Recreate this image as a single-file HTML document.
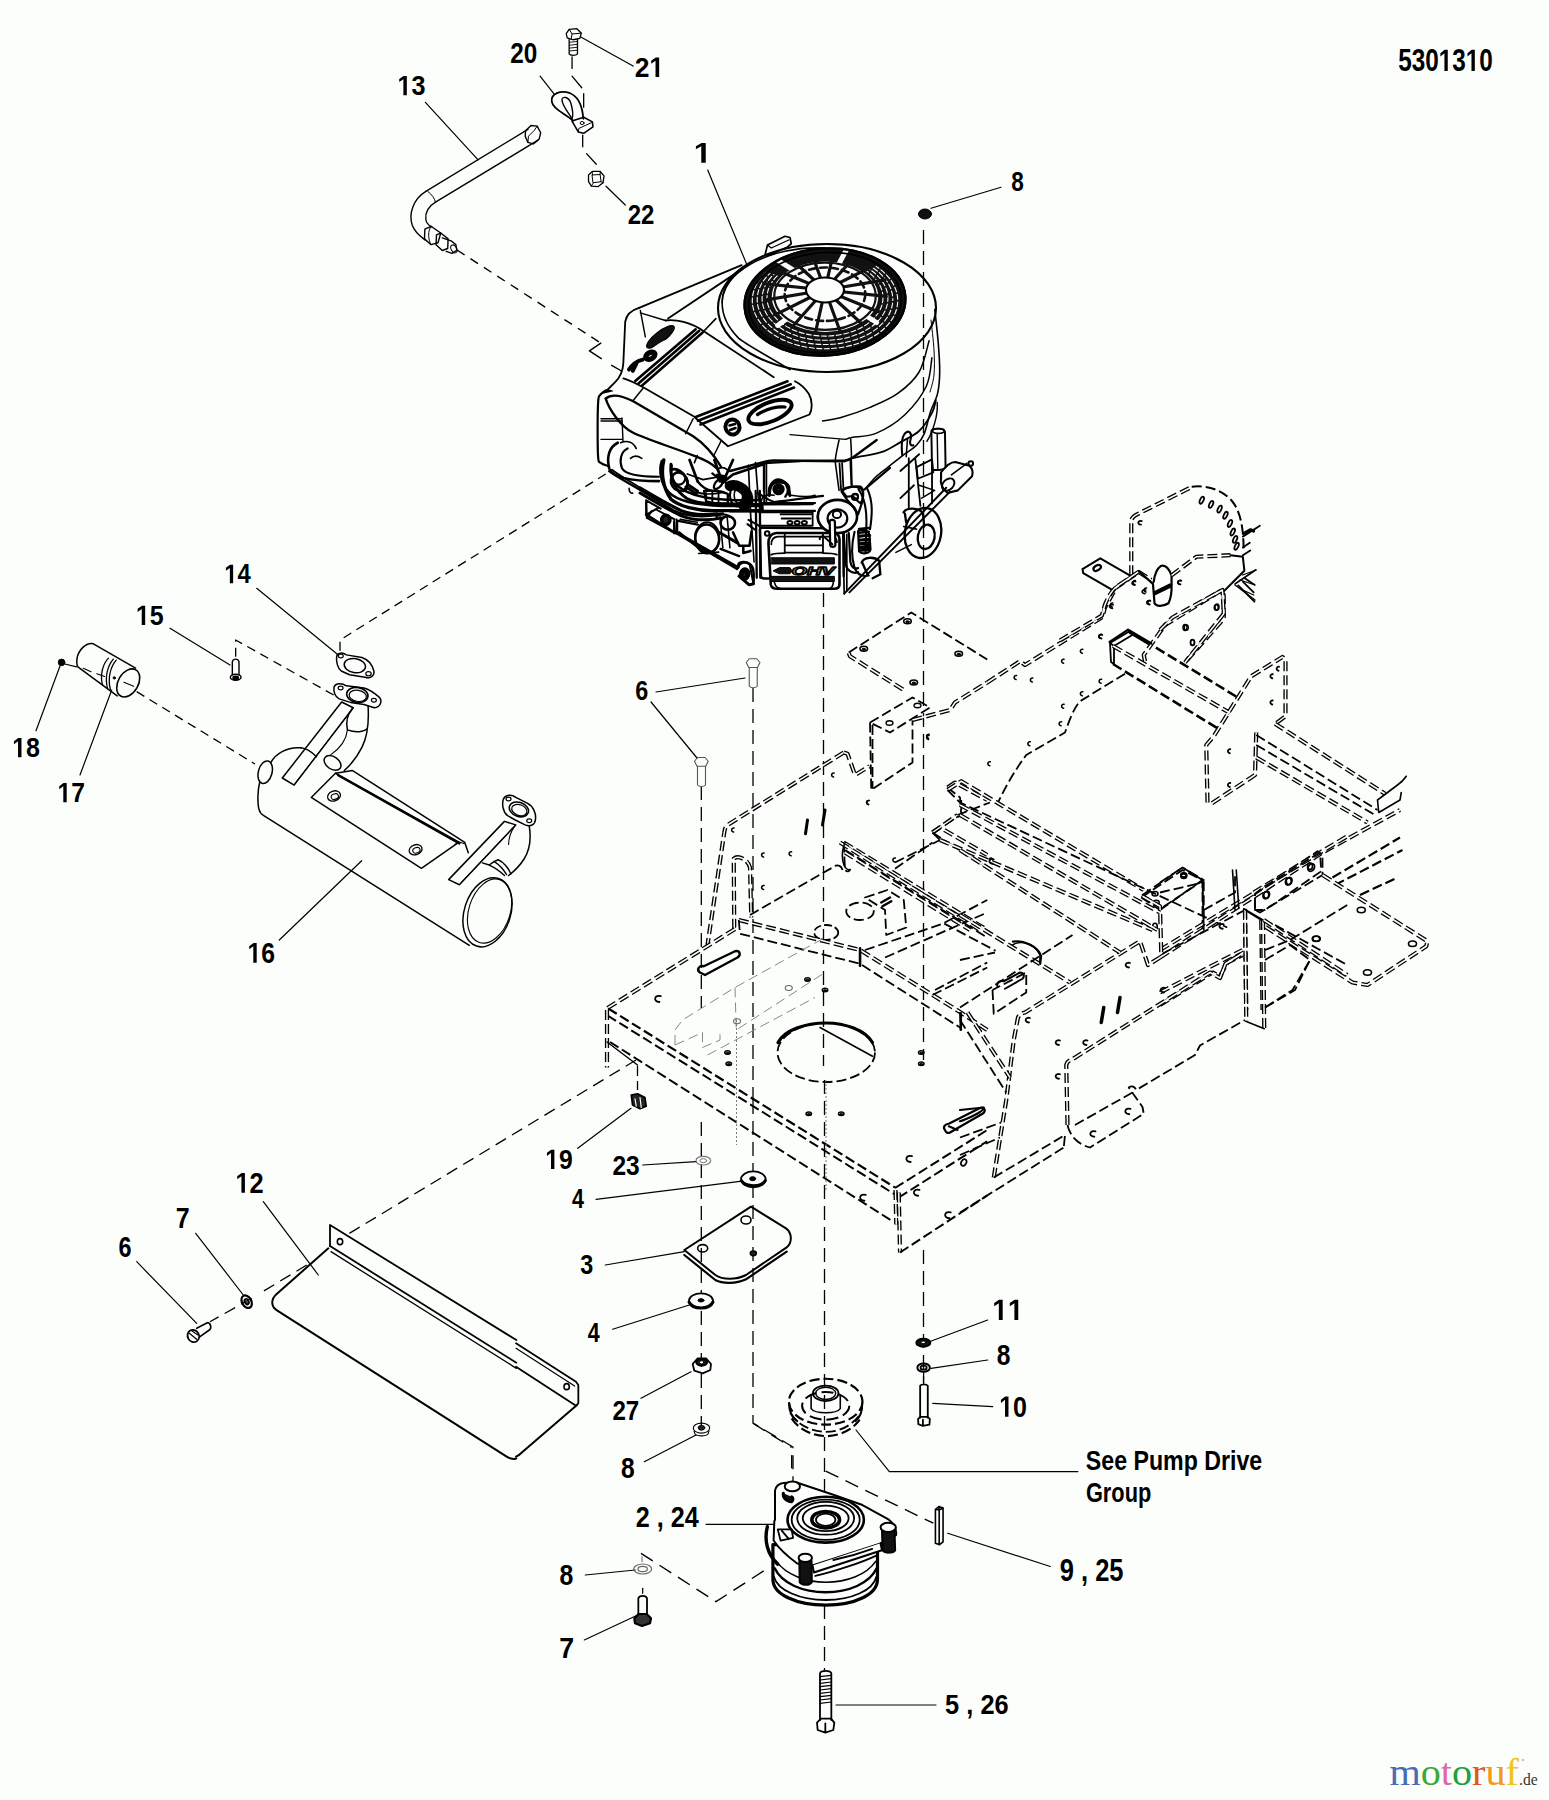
<!DOCTYPE html>
<html><head><meta charset="utf-8"><title>Parts diagram</title>
<style>html,body{margin:0;padding:0;background:#fcfefc;}svg{display:block}
text{font-family:"Liberation Sans",sans-serif;font-weight:bold;}</style></head>
<body><svg width="1549" height="1800" viewBox="0 0 1549 1800" stroke-linecap="round" stroke-linejoin="round">
<g transform="matrix(0.8692 0 0 1.1053 1398.13 71.00)"><text font-size="28" style="font-kerning:none">530 3 0</text><path d="M 478 0 L 478 1170 L 140 959 L 140 1180 L 493 1409 L 759 1409 L 759 0 Z" transform="translate(46.717 0) scale(0.01367 -0.01367)" fill="#000"/><path d="M 478 0 L 478 1170 L 140 959 L 140 1180 L 493 1409 L 759 1409 L 759 0 Z" transform="translate(77.861 0) scale(0.01367 -0.01367)" fill="#000"/></g>
<g transform="matrix(0.9000 0 0 1.0000 397.50 95.20)"><text font-size="28" style="font-kerning:none"> 3</text><path d="M 478 0 L 478 1170 L 140 959 L 140 1180 L 493 1409 L 759 1409 L 759 0 Z" transform="translate(0.000 0) scale(0.01367 -0.01367)" fill="#000"/></g>
<g transform="matrix(0.8690 0 0 1.0211 510.13 62.60)"><text font-size="28">20</text></g>
<g transform="matrix(0.9440 0 0 1.0158 634.66 77.10)"><text font-size="28" style="font-kerning:none">2 </text><path d="M 478 0 L 478 1170 L 140 959 L 140 1180 L 493 1409 L 759 1409 L 759 0 Z" transform="translate(15.572 0) scale(0.01367 -0.01367)" fill="#000"/></g>
<g transform="matrix(1.1625 0 0 1.0211 693.68 162.70)"><text font-size="28" style="font-kerning:none"> </text><path d="M 478 0 L 478 1170 L 140 959 L 140 1180 L 493 1409 L 759 1409 L 759 0 Z" transform="translate(0.000 0) scale(0.01367 -0.01367)" fill="#000"/></g>
<g transform="matrix(0.8552 0 0 0.9842 627.74 223.70)"><text font-size="28">22</text></g>
<g transform="matrix(0.8071 0 0 1.0000 1011.19 190.70)"><text font-size="28">8</text></g>
<g transform="matrix(0.8517 0 0 0.9632 224.30 583.30)"><text font-size="28" style="font-kerning:none"> 4</text><path d="M 478 0 L 478 1170 L 140 959 L 140 1180 L 493 1409 L 759 1409 L 759 0 Z" transform="translate(0.000 0) scale(0.01367 -0.01367)" fill="#000"/></g>
<g transform="matrix(0.8929 0 0 1.0000 135.91 625.00)"><text font-size="28" style="font-kerning:none"> 5</text><path d="M 478 0 L 478 1170 L 140 959 L 140 1180 L 493 1409 L 759 1409 L 759 0 Z" transform="translate(0.000 0) scale(0.01367 -0.01367)" fill="#000"/></g>
<g transform="matrix(0.8929 0 0 1.0000 12.21 757.30)"><text font-size="28" style="font-kerning:none"> 8</text><path d="M 478 0 L 478 1170 L 140 959 L 140 1180 L 493 1409 L 759 1409 L 759 0 Z" transform="translate(0.000 0) scale(0.01367 -0.01367)" fill="#000"/></g>
<g transform="matrix(0.8821 0 0 1.0000 57.54 802.30)"><text font-size="28" style="font-kerning:none"> 7</text><path d="M 478 0 L 478 1170 L 140 959 L 140 1180 L 493 1409 L 759 1409 L 759 0 Z" transform="translate(0.000 0) scale(0.01367 -0.01367)" fill="#000"/></g>
<g transform="matrix(0.8821 0 0 1.0211 247.54 962.70)"><text font-size="28" style="font-kerning:none"> 6</text><path d="M 478 0 L 478 1170 L 140 959 L 140 1180 L 493 1409 L 759 1409 L 759 0 Z" transform="translate(0.000 0) scale(0.01367 -0.01367)" fill="#000"/></g>
<g transform="matrix(0.8357 0 0 1.0000 635.16 700.00)"><text font-size="28">6</text></g>
<g transform="matrix(0.8821 0 0 1.0000 545.24 1169.00)"><text font-size="28" style="font-kerning:none"> 9</text><path d="M 478 0 L 478 1170 L 140 959 L 140 1180 L 493 1409 L 759 1409 L 759 0 Z" transform="translate(0.000 0) scale(0.01367 -0.01367)" fill="#000"/></g>
<g transform="matrix(0.8759 0 0 0.9737 612.42 1175.00)"><text font-size="28">23</text></g>
<g transform="matrix(0.7687 0 0 1.0158 572.00 1208.30)"><text font-size="28">4</text></g>
<g transform="matrix(0.9071 0 0 1.0211 235.49 1192.70)"><text font-size="28" style="font-kerning:none"> 2</text><path d="M 478 0 L 478 1170 L 140 959 L 140 1180 L 493 1409 L 759 1409 L 759 0 Z" transform="translate(0.000 0) scale(0.01367 -0.01367)" fill="#000"/></g>
<g transform="matrix(0.8923 0 0 1.0526 175.81 1228.30)"><text font-size="28">7</text></g>
<g transform="matrix(0.8357 0 0 1.0211 118.46 1256.70)"><text font-size="28">6</text></g>
<g transform="matrix(0.8357 0 0 1.0158 580.16 1274.30)"><text font-size="28">3</text></g>
<g transform="matrix(0.7687 0 0 0.9684 587.70 1341.70)"><text font-size="28">4</text></g>
<g transform="matrix(0.8621 0 0 0.9632 612.44 1420.00)"><text font-size="28">27</text></g>
<g transform="matrix(0.8786 0 0 1.0526 621.12 1478.30)"><text font-size="28">8</text></g>
<g transform="matrix(0.8986 0 0 1.0526 635.80 1526.70)"><text font-size="28">2 , 24</text></g>
<g transform="matrix(0.8857 0 0 1.0526 559.41 1585.00)"><text font-size="28">8</text></g>
<g transform="matrix(0.9538 0 0 1.0526 559.35 1658.30)"><text font-size="28">7</text></g>
<g transform="matrix(1.0000 0 0 1.0526 992.30 1320.00)"><text font-size="28" style="font-kerning:none">  </text><path d="M 478 0 L 478 1170 L 140 959 L 140 1180 L 493 1409 L 759 1409 L 759 0 Z" transform="translate(0.000 0) scale(0.01367 -0.01367)" fill="#000"/><path d="M 478 0 L 478 1170 L 140 959 L 140 1180 L 493 1409 L 759 1409 L 759 0 Z" transform="translate(15.572 0) scale(0.01367 -0.01367)" fill="#000"/></g>
<g transform="matrix(0.8786 0 0 1.0526 996.82 1365.00)"><text font-size="28">8</text></g>
<g transform="matrix(0.8929 0 0 1.0526 999.21 1416.70)"><text font-size="28" style="font-kerning:none"> 0</text><path d="M 478 0 L 478 1170 L 140 959 L 140 1180 L 493 1409 L 759 1409 L 759 0 Z" transform="translate(0.000 0) scale(0.01367 -0.01367)" fill="#000"/></g>
<g transform="matrix(0.9074 0 0 1.0000 945.09 1714.00)"><text font-size="28">5 , 26</text></g>
<g transform="matrix(0.8275 0 0 0.9692 1085.87 1469.78)"><text font-size="28">See Pump Drive</text></g>
<g transform="matrix(0.7780 0 0 1.0080 1085.92 1502.05)"><text font-size="28">Group</text></g>
<g transform="matrix(0.9118 0 0 1.1158 1059.69 1581.20)"><text font-size="28">9 , 25</text></g>
<text x="1389.5" y="1785" textLength="129.5" lengthAdjust="spacingAndGlyphs" style="font-family:'Liberation Serif',serif;font-weight:normal;font-size:38px"><tspan fill="#4a6cb5">m</tspan><tspan fill="#3aa83a">o</tspan><tspan fill="#e068a8">t</tspan><tspan fill="#20a040">o</tspan><tspan fill="#e05818">r</tspan><tspan fill="#f09820">u</tspan><tspan fill="#f2c318">f</tspan></text>
<text x="1519" y="1785" textLength="18.6" lengthAdjust="spacingAndGlyphs" style="font-family:'Liberation Serif',serif;font-weight:normal;font-size:17px" fill="#333">.de</text>
<circle cx="1523" cy="1760" r="0.8" fill="#666"/>
<path d="M 425.4 102.3 L 478.1 159.8" fill="none" stroke="#000" stroke-width="1.2" />
<path d="M 540.1 76.2 L 554.2 94.2" fill="none" stroke="#000" stroke-width="1.2" />
<path d="M 580.8 37 L 633.1 66.1" fill="none" stroke="#000" stroke-width="1.2" />
<path d="M 606 186.2 L 625.3 205" fill="none" stroke="#000" stroke-width="1.2" />
<path d="M 707.7 170 L 747.7 266.7" fill="none" stroke="#000" stroke-width="1.2" />
<path d="M 931 208.3 L 1001 187.3" fill="none" stroke="#000" stroke-width="1.2" />
<path d="M 256.7 588.3 L 338.3 655" fill="none" stroke="#000" stroke-width="1.2" />
<path d="M 170 628.3 L 230 665" fill="none" stroke="#000" stroke-width="1.2" />
<path d="M 36 730.7 L 60 666" fill="none" stroke="#000" stroke-width="1.2" />
<path d="M 80 775 L 111.7 690" fill="none" stroke="#000" stroke-width="1.2" />
<path d="M 279.3 940 L 361.7 860.7" fill="none" stroke="#000" stroke-width="1.2" />
<path d="M 656 692 L 745 678" fill="none" stroke="#000" stroke-width="1.2" />
<path d="M 651 702 L 697 758" fill="none" stroke="#000" stroke-width="1.2" />
<path d="M 577.7 1148.3 L 631 1108.3" fill="none" stroke="#000" stroke-width="1.2" />
<path d="M 642.7 1165 L 696 1161.7" fill="none" stroke="#000" stroke-width="1.2" />
<path d="M 596 1199.3 L 746 1180.7" fill="none" stroke="#000" stroke-width="1.2" />
<path d="M 605.3 1265 L 684.3 1251.7" fill="none" stroke="#000" stroke-width="1.2" />
<path d="M 612.7 1329.3 L 689.3 1305" fill="none" stroke="#000" stroke-width="1.2" />
<path d="M 641 1398.3 L 691 1371.7" fill="none" stroke="#000" stroke-width="1.2" />
<path d="M 644.3 1461.7 L 696 1435" fill="none" stroke="#000" stroke-width="1.2" />
<path d="M 706 1524.3 L 781 1524.3" fill="none" stroke="#000" stroke-width="1.2" />
<path d="M 585.3 1575 L 635.3 1570" fill="none" stroke="#000" stroke-width="1.2" />
<path d="M 584.3 1640 L 637.7 1615" fill="none" stroke="#000" stroke-width="1.2" />
<path d="M 987.7 1320 L 929.3 1341.7" fill="none" stroke="#000" stroke-width="1.2" />
<path d="M 987.7 1360 L 931 1368.3" fill="none" stroke="#000" stroke-width="1.2" />
<path d="M 992.7 1406.7 L 932.7 1403.3" fill="none" stroke="#000" stroke-width="1.2" />
<path d="M 836 1705 L 936 1705" fill="none" stroke="#000" stroke-width="1.2" />
<path d="M 856 1430 L 889.3 1471.7 L 1077.8 1471.7" fill="none" stroke="#000" stroke-width="1.2" />
<path d="M 947.7 1533.3 L 1050.3 1566.5" fill="none" stroke="#000" stroke-width="1.2" />
<path d="M 263.3 1201.7 L 318.3 1275" fill="none" stroke="#000" stroke-width="1.2" />
<path d="M 195.7 1233.3 L 243.3 1295" fill="none" stroke="#000" stroke-width="1.2" />
<path d="M 136.7 1261.7 L 196.7 1323.3" fill="none" stroke="#000" stroke-width="1.2" />
<path d="M 425.83 191.4 L 527.9 129.43" fill="none" stroke="#000" stroke-width="1.4" />
<path d="M 435.51 202.05 L 537.58 140.46" fill="none" stroke="#000" stroke-width="1.4" />
<path d="M 525.57 130.78 L 530.99 125.55 L 537.19 126.13 L 540.68 132.72 L 539.13 139.11 L 533.32 143.95 L 527.9 142.4 L 525.18 136.2 Z" fill="none" stroke="#000" stroke-width="1.4" />
<path d="M 527.9 142.4 L 528.48 136.2 L 534.29 130.39 L 537.19 126.13" fill="none" stroke="#000" stroke-width="1.0" />
<path d="M 427.77 191.4 C 431.64 194.31 434.54 198.18 435.51 202.05" fill="none" stroke="#000" stroke-width="1.0" />
<path d="M 425.83 191.4 C 413.24 199.15 408.4 213.67 412.27 225.29 C 415.18 233.04 420.99 236.91 424.86 239.82" fill="none" stroke="#000" stroke-width="1.4" />
<path d="M 435.51 202.05 C 428.73 205.93 424.86 212.7 425.83 219.48 C 426.41 223.36 428.73 225.29 431.64 226.84" fill="none" stroke="#000" stroke-width="1.4" />
<path d="M 424.86 229.17 L 431.06 226.26 L 440.74 233.04 L 438.03 242.72 L 431.06 244.66 L 424.47 238.85 Z" fill="none" stroke="#000" stroke-width="1.4" />
<path d="M 431.06 226.26 C 427.77 231.1 427.77 238.85 431.06 244.66" fill="none" stroke="#000" stroke-width="1.0" />
<path d="M 436.48 234.98 L 440.74 233.04 L 448.1 238.85 L 447.71 248.53 L 442.29 250.47 L 436.09 244.66 Z" fill="none" stroke="#000" stroke-width="1.4" />
<path d="M 442.29 237.88 L 451.01 240.79 L 455.85 244.66 L 456.82 250.47 L 451.98 253.38 L 446.17 251.44" fill="none" stroke="#000" stroke-width="1.4" />
<ellipse cx="453.91" cy="248.92" rx="2.71" ry="4.26" fill="none" stroke="#000" stroke-width="1.0" transform="rotate(-30 453.91 248.92)"/>
<path d="M 573.02 120.71 C 564.31 112.96 552.69 109.09 551.72 101.34 C 550.75 93.6 560.43 89.72 570.12 93.21 C 577.86 96.5 581.74 105.22 582.9 114.9 L 583.29 118.77" fill="none" stroke="#000" stroke-width="1.8" />
<path d="M 572.05 118.77 C 567.21 111.03 561.98 105.22 561.98 99.79 C 562.37 95.92 568.57 96.5 570.89 103.28 C 572.83 110.06 573.21 115.87 572.05 118.77" fill="none" stroke="#000" stroke-width="1.4" />
<path d="M 572.05 121.1 L 583.67 117.22 L 592.39 121.87 L 592.97 126.91 L 583.67 133.3 L 578.25 131.94 Z" fill="none" stroke="#000" stroke-width="1.6" />
<path d="M 578.25 131.94 L 578.83 128.46 L 591.42 122.65" fill="none" stroke="#000" stroke-width="1.0" />
<ellipse cx="582.12" cy="123.03" rx="1.94" ry="1.55" fill="none" stroke="#000" stroke-width="1.0"/>
<path d="M 566.24 33.56 L 569.15 29.3 L 576.89 28.72 L 581.35 33.17 L 579.8 38.4 L 573.02 39.75 L 567.21 37.82 Z" fill="none" stroke="#000" stroke-width="1.3" />
<path d="M 569.15 29.3 L 572.05 33.94 L 581.35 33.17 M 572.05 33.94 L 571.08 39.37" fill="none" stroke="#000" stroke-width="1.0" />
<path d="M 569.15 39.37 L 569.15 53.89 C 570.12 55.83 575.93 55.83 577.48 53.89 L 577.48 39.37" fill="none" stroke="#000" stroke-width="1.3" />
<path d="M 569.54 42.27 L 577.09 41.5" fill="none" stroke="#000" stroke-width="0.9" />
<path d="M 569.54 45.18 L 577.09 44.4" fill="none" stroke="#000" stroke-width="0.9" />
<path d="M 569.54 48.08 L 577.09 47.31" fill="none" stroke="#000" stroke-width="0.9" />
<path d="M 569.54 50.99 L 577.09 50.21" fill="none" stroke="#000" stroke-width="0.9" />
<path d="M 588.52 174.94 L 592.39 171.45 L 600.14 171.45 L 604.01 175.91 L 603.04 182.69 L 598.2 186.56 L 591.42 186.17 L 588.52 181.72 Z" fill="none" stroke="#000" stroke-width="1.3" />
<path d="M 592.39 174.94 L 600.14 174.55 L 601.1 181.72 L 593.36 182.69 Z" fill="none" stroke="#000" stroke-width="1.0" />
<path d="M 592.39 171.45 L 592.39 174.94 M 600.14 171.45 L 600.14 174.55 M 593.36 182.69 L 591.42 186.17 M 601.1 181.72 L 603.04 182.69" fill="none" stroke="#000" stroke-width="0.9" />
<path d="M 572.05 56.8 L 572.05 68.42" fill="none" stroke="#000" stroke-width="1.3" />
<path d="M 572.05 76.17 L 581.74 87.79" fill="none" stroke="#000" stroke-width="1.3" />
<path d="M 583.67 93.6 L 583.67 107.15" fill="none" stroke="#000" stroke-width="1.3" />
<path d="M 582.7 135.24 L 582.7 146.86" fill="none" stroke="#000" stroke-width="1.3" />
<path d="M 586.58 153.63 L 596.26 164.29" fill="none" stroke="#000" stroke-width="1.3" />
<ellipse cx="925" cy="214" rx="6.5" ry="5" fill="#111" stroke="#000" stroke-width="1.0"/>
<path d="M 300.94 747.84 C 286.48 746.39 275.12 754.66 270.99 762.3" fill="none" stroke="#000" stroke-width="1.5" />
<ellipse cx="265.2" cy="772.22" rx="6.82" ry="11.57" fill="none" stroke="#000" stroke-width="1.5" transform="rotate(15 265.2 772.22)"/>
<path d="M 259.63 782.54 C 257.56 790.81 257.35 803.2 259.01 809.4 C 259.83 812.5 261.69 814.57 263.76 815.6 L 469.31 945.33" fill="none" stroke="#000" stroke-width="1.5" />
<path d="M 300.94 747.84 C 306.11 748.46 311.27 751.56 316.44 756.72" fill="none" stroke="#000" stroke-width="1.5" />
<ellipse cx="487.49" cy="912.28" rx="23.14" ry="35.53" fill="none" stroke="#000" stroke-width="1.5" transform="rotate(18 487.49 912.28)"/>
<ellipse cx="489.56" cy="911.04" rx="20.66" ry="33.05" fill="none" stroke="#000" stroke-width="1.1" transform="rotate(18 489.56 911.04)"/>
<path d="M 311.27 797.42 L 335.44 773.25 L 458.98 842.04 L 421.38 868.28 Z" fill="none" stroke="#000" stroke-width="1.5" />
<path d="M 335.44 773.25 L 352.59 770.56 L 464.77 842.45 L 468.28 852.78" fill="none" stroke="#000" stroke-width="1.5" />
<path d="M 338.13 775.31 L 459.39 843.49" fill="none" stroke="#000" stroke-width="2.2" />
<path d="M 454.85 844.52 L 458.98 842.04 L 464.15 843.49" fill="none" stroke="#000" stroke-width="1.2" />
<ellipse cx="334" cy="795.97" rx="6.61" ry="4.96" fill="none" stroke="#000" stroke-width="1.3" transform="rotate(-20 334 795.97)"/>
<ellipse cx="334.82" cy="796.59" rx="3.72" ry="2.69" fill="none" stroke="#000" stroke-width="1.1" transform="rotate(-20 334.82 796.59)"/>
<ellipse cx="415.6" cy="849.68" rx="6.61" ry="4.96" fill="none" stroke="#000" stroke-width="1.3" transform="rotate(-20 415.6 849.68)"/>
<ellipse cx="416.42" cy="850.3" rx="3.72" ry="2.69" fill="none" stroke="#000" stroke-width="1.1" transform="rotate(-20 416.42 850.3)"/>
<path d="M 282.35 778 L 341.64 701.98 L 353.21 707.76 L 294.13 785.02 Z" fill="none" stroke="#000" stroke-width="1.5" />
<path d="M 295.78 782.54 L 351.56 710.24" fill="none" stroke="#000" stroke-width="1.0" />
<path d="M 368.08 706.11 C 369.12 722.63 367.05 737.1 361.89 747.42 C 356.72 757.75 350.52 764.98 344.33 770.56" fill="none" stroke="#000" stroke-width="1.5" />
<path d="M 352.59 708.17 C 347.42 714.37 345.77 722.63 347.42 729.86 M 347.42 729.86 C 355.69 732.96 363.95 731.93 367.05 728.83" fill="none" stroke="#000" stroke-width="1.5" />
<path d="M 347.42 729.86 C 346.39 739.16 341.23 747.42 330.9 754.66" fill="none" stroke="#000" stroke-width="1.1" />
<ellipse cx="332.55" cy="762.92" rx="9.3" ry="6.2" fill="none" stroke="#000" stroke-width="1.5" transform="rotate(35 332.55 762.92)"/>
<path d="M 334 687.1 C 335.03 683.38 341.23 682.35 346.39 685.86 L 363.95 687.93 C 370.15 689.58 375.31 693.71 379.45 697.43 C 382.54 700.94 380.48 707.14 374.28 707.76 L 363.95 704.45 L 350.52 702.39 L 339.16 698.88 C 335.03 696.81 333.38 691.65 334 687.1 Z" fill="none" stroke="#000" stroke-width="1.5" />
<ellipse cx="357.34" cy="694.95" rx="10.74" ry="7.44" fill="none" stroke="#000" stroke-width="1.6" transform="rotate(10 357.34 694.95)"/>
<ellipse cx="357.75" cy="695.78" rx="8.68" ry="5.58" fill="none" stroke="#000" stroke-width="1.2" transform="rotate(10 357.75 695.78)"/>
<ellipse cx="340.61" cy="687.93" rx="2.48" ry="1.86" fill="none" stroke="#000" stroke-width="1.2"/>
<ellipse cx="373.87" cy="700.32" rx="2.48" ry="1.86" fill="none" stroke="#000" stroke-width="1.2"/>
<path d="M 336.68 656.53 C 337.1 652.81 342.26 651.98 346.39 654.87 L 361.89 657.56 C 368.08 659.63 372.22 664.79 373.87 670.99 C 374.69 676.15 370.15 678.84 364.98 677.19 L 349.49 674.71 L 341.23 670.99 C 337.1 667.89 336.06 660.66 336.68 656.53 Z" fill="none" stroke="#000" stroke-width="1.5" />
<ellipse cx="354.86" cy="665.62" rx="10.74" ry="7.02" fill="none" stroke="#000" stroke-width="1.5" transform="rotate(10 354.86 665.62)"/>
<ellipse cx="340.81" cy="656.11" rx="2.48" ry="1.86" fill="none" stroke="#000" stroke-width="1.2"/>
<ellipse cx="368.5" cy="673.67" rx="2.69" ry="2.07" fill="none" stroke="#000" stroke-width="1.2"/>
<path d="M 448.65 879.64 L 504.43 821.38 L 515.79 824.89 L 459.39 884.8 Z" fill="none" stroke="#000" stroke-width="1.5" />
<path d="M 461.46 882.12 L 513.73 826.96" fill="none" stroke="#000" stroke-width="1.0" />
<path d="M 529.22 825.93 C 531.29 838.32 529.22 850.72 524.06 858.98 C 518.89 867.24 512.69 872.41 508.56 875.51" fill="none" stroke="#000" stroke-width="1.5" />
<path d="M 514.76 825.93 C 510.63 832.12 508.56 838.32 508.56 844.52" fill="none" stroke="#000" stroke-width="1.1" />
<path d="M 482.3 862.93 L 489.17 865.04 C 491.81 862.93 494.97 860.81 498.14 859.76 M 489.17 865.04 C 493.92 867.15 500.25 871.37 504.48 875.6 M 493.92 861.34 C 498.14 863.98 503.42 869.26 506.59 874.54 M 498.14 859.76 C 503.42 861.87 508.7 868.2 510.81 874.01" fill="none" stroke="#000" stroke-width="1.4" />
<path d="M 503.4 799.07 C 505.46 794.53 511.66 793.91 515.79 797.42 L 527.15 803.2 C 533.35 806.3 536.45 813.53 535.42 819.73 C 535 824.89 530.25 826.96 525.09 824.89 L 514.76 819.73 L 507.53 815.6 C 502.36 811.47 501.95 803.2 503.4 799.07 Z" fill="none" stroke="#000" stroke-width="1.5" />
<ellipse cx="518.89" cy="809.4" rx="9.92" ry="7.02" fill="none" stroke="#000" stroke-width="1.6" transform="rotate(20 518.89 809.4)"/>
<ellipse cx="519.3" cy="810.02" rx="7.85" ry="5.37" fill="none" stroke="#000" stroke-width="1.2" transform="rotate(20 519.3 810.02)"/>
<ellipse cx="508.56" cy="799.07" rx="2.48" ry="1.86" fill="none" stroke="#000" stroke-width="1.2"/>
<ellipse cx="529.22" cy="820.76" rx="2.48" ry="1.86" fill="none" stroke="#000" stroke-width="1.2"/>
<path d="M 92.96 643.62 C 85.22 642.65 78.44 650.39 77.08 658.14 C 76.5 662.01 76.7 664.92 77.86 666.86 L 117.17 695.91" fill="none" stroke="#000" stroke-width="1.5" />
<path d="M 92.96 643.62 L 135.57 668.21" fill="none" stroke="#000" stroke-width="1.5" />
<ellipse cx="128.21" cy="682.93" rx="10.07" ry="15.11" fill="none" stroke="#000" stroke-width="1.6" transform="rotate(30 128.21 682.93)"/>
<path d="M 108.46 658.14 C 102.65 663.95 99.74 675.57 102.65 685.26 M 113.3 659.11 C 107.49 665.89 104.58 677.51 107.49 688.16 M 116.2 660.08 C 110.39 666.86 107.49 678.48 110.39 689.52" fill="none" stroke="#000" stroke-width="1.3" />
<ellipse cx="114.27" cy="677.9" rx="1.16" ry="1.16" fill="#000" stroke="#000" stroke-width="1.0"/>
<ellipse cx="61.59" cy="662.4" rx="3.29" ry="3.29" fill="#000" stroke="#000" stroke-width="1.0"/>
<path d="M 64.88 663.95 L 76.5 666.86" fill="none" stroke="#000" stroke-width="1.1" />
<path d="M 83.28 668.21 L 91.03 671.7 M 96.84 673.64 L 104.58 676.54 M 123.95 682.35 L 133.64 686.22" fill="none" stroke="#000" stroke-width="1.1" />
<path d="M 232.33 661.67 L 232.33 675 M 239 661.67 L 239 675 M 232.33 661.67 C 233.33 658.33 238 658.33 239 661.67" fill="none" stroke="#000" stroke-width="1.4" />
<ellipse cx="235.67" cy="677.33" rx="5.33" ry="3" fill="none" stroke="#000" stroke-width="1.5"/>
<ellipse cx="235.67" cy="678" rx="2.67" ry="1.67" fill="#000" stroke="#000" stroke-width="1.5"/>
<path d="M 136.67 691.67 L 255 764" fill="none" stroke="#000" stroke-width="1.3" stroke-dasharray="9 6" stroke-linecap="butt" />
<path d="M 235.67 656.67 L 235.67 640 L 336.67 696.67" fill="none" stroke="#000" stroke-width="1.3" stroke-dasharray="9 6" stroke-linecap="butt" />
<path d="M 340 650.67 L 340 640 L 612 470" fill="none" stroke="#000" stroke-width="1.3" stroke-dasharray="9 6" stroke-linecap="butt" />
<defs><clipPath id="gr"><ellipse cx="825.0" cy="302.0" rx="80.0" ry="53.0" transform="rotate(-4 825.0 302.0)"/></clipPath></defs>
<ellipse cx="827" cy="308" rx="109" ry="64" fill="#fcfefc" stroke="#000" stroke-width="2.08"/>
<path d="M 722.25 302.75 C 721.25 282.5 745 260 785 251.25 C 800 248 812.5 247.5 825 248" fill="none" stroke="#000" stroke-width="1.56" />
<ellipse cx="825" cy="302" rx="80.5" ry="53.5" fill="#111" stroke="#000" stroke-width="2.3400000000000003" transform="rotate(-4 825 302)"/>
<g clip-path="url(#gr)"><ellipse cx="825.0" cy="297.7" rx="58.0" ry="38.4" fill="none" stroke="#fcfefc" stroke-width="1.1" stroke-dasharray="5 2.5" stroke-dashoffset="0"/><ellipse cx="825.0" cy="298.6" rx="62.9" ry="41.7" fill="none" stroke="#fcfefc" stroke-width="1.1" stroke-dasharray="5 2.5" stroke-dashoffset="2"/><ellipse cx="825.0" cy="299.6" rx="67.8" ry="44.9" fill="none" stroke="#fcfefc" stroke-width="1.1" stroke-dasharray="5 2.5" stroke-dashoffset="4"/><ellipse cx="825.0" cy="300.6" rx="72.7" ry="48.1" fill="none" stroke="#fcfefc" stroke-width="1.1" stroke-dasharray="5 2.5" stroke-dashoffset="6"/><path d="M 765.0 272.0 C 785.0 246.0, 855.0 240.0, 880.0 262.0 L 835.0 282.0 L 813.0 284.0 Z" fill="#111"/><ellipse cx="825.0" cy="296.7" rx="53.2" ry="35.2" fill="#fcfefc"/><line x1="825.0" y1="290.0" x2="886.3" y2="296.3" stroke="#111" stroke-width="3.2"/><line x1="825.0" y1="290.0" x2="878.1" y2="311.7" stroke="#111" stroke-width="3.2"/><line x1="825.0" y1="290.0" x2="861.8" y2="323.8" stroke="#111" stroke-width="3.2"/><line x1="825.0" y1="290.0" x2="839.9" y2="330.8" stroke="#111" stroke-width="3.2"/><line x1="825.0" y1="290.0" x2="815.7" y2="331.5" stroke="#111" stroke-width="3.2"/><line x1="825.0" y1="290.0" x2="793.0" y2="326.0" stroke="#111" stroke-width="3.2"/><line x1="825.0" y1="290.0" x2="775.1" y2="314.9" stroke="#111" stroke-width="3.2"/><line x1="825.0" y1="290.0" x2="764.8" y2="300.1" stroke="#111" stroke-width="3.2"/><line x1="825.0" y1="290.0" x2="763.7" y2="283.7" stroke="#111" stroke-width="3.2"/><line x1="825.0" y1="290.0" x2="771.9" y2="268.3" stroke="#111" stroke-width="3.2"/><line x1="825.0" y1="290.0" x2="788.2" y2="256.2" stroke="#111" stroke-width="3.2"/><line x1="825.0" y1="290.0" x2="810.1" y2="249.2" stroke="#111" stroke-width="3.2"/><line x1="825.0" y1="290.0" x2="834.3" y2="248.5" stroke="#111" stroke-width="3.2"/><line x1="825.0" y1="290.0" x2="857.0" y2="254.0" stroke="#111" stroke-width="3.2"/><line x1="825.0" y1="290.0" x2="874.9" y2="265.1" stroke="#111" stroke-width="3.2"/><line x1="825.0" y1="290.0" x2="885.2" y2="279.9" stroke="#111" stroke-width="3.2"/><line x1="853.0" y1="307.6" x2="876.6" y2="322.5" stroke="#fcfefc" stroke-width="5"/><line x1="799.3" y1="309.2" x2="777.7" y2="325.4" stroke="#fcfefc" stroke-width="5"/><line x1="797.0" y1="272.4" x2="773.4" y2="257.5" stroke="#fcfefc" stroke-width="5"/><line x1="838.0" y1="265.6" x2="849.0" y2="244.9" stroke="#fcfefc" stroke-width="5"/><ellipse cx="825.0" cy="294.2" rx="40.3" ry="26.7" fill="none" stroke="#111" stroke-width="2.6" stroke-dasharray="7 4"/><ellipse cx="825.0" cy="296.2" rx="50.7" ry="33.6" fill="none" stroke="#111" stroke-width="2.2"/></g>
<ellipse cx="825" cy="302" rx="80.5" ry="53.5" fill="none" stroke="#000" stroke-width="2.3400000000000003" transform="rotate(-4 825 302)"/>
<ellipse cx="825" cy="302.5" rx="76.5" ry="50" fill="none" stroke="#000" stroke-width="1.6900000000000002" transform="rotate(-4 825 302.5)"/>
<ellipse cx="825" cy="290" rx="19" ry="12.5" fill="#fcfefc" stroke="#000" stroke-width="2.08"/>
<path d="M 765 255 L 767.5 245 L 785 236.25 L 790 237.5 L 791.25 243.75 L 787.5 247 L 770 255 Z" fill="none" stroke="#000" stroke-width="1.6900000000000002" />
<path d="M 767.5 245 L 771.25 248 L 788.75 240" fill="none" stroke="#000" stroke-width="1.3" />
<path d="M 639.06 307.91 L 741.65 265.11" fill="none" stroke="#000" stroke-width="1.8199999999999998" />
<path d="M 639.06 307.91 C 632.76 309.79 626.47 314.2 625.21 321.75 L 623.32 363.29 C 622.95 370.85 620.18 377.14 615.14 382.18 L 606.33 390.99" fill="none" stroke="#000" stroke-width="1.8199999999999998" />
<path d="M 640.32 310.42 L 645.35 336.86" fill="none" stroke="#000" stroke-width="1.4300000000000002" />
<path d="M 640.32 312.94 L 665.49 320.49" fill="none" stroke="#000" stroke-width="1.4300000000000002" />
<path d="M 668.01 318.61 L 742.28 268.88" fill="none" stroke="#000" stroke-width="1.8199999999999998" />
<path d="M 665.49 320.49 C 675.56 319.23 690.67 321.75 704.52 331.82 L 773.75 377.14" fill="none" stroke="#000" stroke-width="1.8199999999999998" />
<path d="M 703.26 331.82 L 715.85 318.61" fill="none" stroke="#000" stroke-width="1.56" />
<path d="M 735.99 273.92 C 727.18 282.73 722.14 291.54 722.14 302.87 C 722.14 315.46 728.43 328.05 738.5 338.12 C 746.06 344.41 758.65 350.7 789.99 369.59" fill="none" stroke="#000" stroke-width="1.56" />
<path d="M 635.28 380.92 L 695.7 329.31 M 638.43 383.43 L 699.23 330.82 M 641.83 385.7 L 702.63 332.58" fill="none" stroke="#000" stroke-width="2.6" />
<ellipse cx="660.46" cy="336.86" rx="16.99" ry="5.29" fill="#111" stroke="#000" stroke-width="1.3" transform="rotate(-38 660.46 336.86)"/>
<path d="M 647.87 354.48 C 654.16 350.7 660.46 345.67 665.49 343.15" fill="none" stroke="#fcfefc" stroke-width="6" />
<ellipse cx="650.39" cy="355.74" rx="5.04" ry="3.15" fill="none" stroke="#000" stroke-width="5.2" transform="rotate(-30 650.39 355.74)"/>
<path d="M 628.99 369.59 C 632.76 363.29 637.8 360.78 642.83 359.52 M 632.76 370.85 L 636.54 363.29" fill="none" stroke="#000" stroke-width="3.9000000000000004" />
<path d="M 623.32 378.4 C 627.73 379.66 632.76 381.55 645.35 388.47 L 695.7 417.42" fill="none" stroke="#000" stroke-width="1.8199999999999998" />
<path d="M 642.83 388.47 L 632.76 401.06" fill="none" stroke="#000" stroke-width="1.4300000000000002" />
<path d="M 605.7 398.54 C 610.11 394.76 617.66 393.5 632.76 401.06 L 693.19 436.3 C 704.52 443.86 713.33 453.93 720.88 466.52" fill="none" stroke="#000" stroke-width="2.3400000000000003" />
<path d="M 605.7 398.54 C 608.85 408.61 620.18 426.23 632.76 432.53 C 647.87 440.08 670.53 446.37 695.7 456.45 C 705.78 460.22 712.07 464 715.85 467.77" fill="none" stroke="#000" stroke-width="2.3400000000000003" />
<path d="M 693.19 418.68 L 685.63 433.79 M 720.88 441.34 L 713.33 456.45" fill="none" stroke="#000" stroke-width="1.4300000000000002" />
<path d="M 695 417.5 L 728 446.25 L 809.5 414.5 C 812.5 410 812.5 400 808.75 393.75 C 805 388 800 383.75 795 381.25" fill="none" stroke="#000" stroke-width="1.8199999999999998" />
<path d="M 695.75 417 L 787.5 381.25 M 698 420.75 L 790.75 384.25 M 700.5 424.5 L 794 387.5" fill="none" stroke="#000" stroke-width="2.6" />
<ellipse cx="732.5" cy="427" rx="7" ry="7.5" fill="none" stroke="#000" stroke-width="3.9000000000000004" transform="rotate(-20 732.5 427)"/>
<path d="M 729.5 425.5 L 735 424 M 730 430 L 735.5 428" fill="none" stroke="#000" stroke-width="2.6" />
<ellipse cx="770" cy="412" rx="23" ry="9.5" fill="none" stroke="#000" stroke-width="3.9000000000000004" transform="rotate(-22 770 412)"/>
<path d="M 757.5 414.5 C 765 410 775 406.25 785 407" fill="none" stroke="#000" stroke-width="3.25" />
<path d="M 929.1 340.8 C 927.43 346 924.32 363.23 919.1 372 C 913.88 380.77 906.08 387.47 897.8 393.4 C 889.52 399.33 878.87 403.58 869.4 407.6 C 859.93 411.62 848.8 415.27 841 417.5 C 833.2 419.73 825.67 420.42 822.6 421" fill="none" stroke="#000" stroke-width="1.5" />
<path d="M 931.9 357.8 C 930.97 362.55 930.8 376.82 926.3 386.3 C 921.8 395.78 913.2 406.9 904.9 414.7 C 896.6 422.5 885.32 429.32 876.5 433.1 C 867.68 436.88 857.17 436.35 852 437.4 C 846.83 438.45 846.58 439.07 845.5 439.4" fill="none" stroke="#000" stroke-width="1.5" />
<path d="M 845.5 439.4 L 790 434.6" fill="none" stroke="#000" stroke-width="1.4" />
<path d="M 935.9 400 C 935.25 402.15 934.8 407.73 932 412.9 C 929.2 418.07 924.48 426.05 919.1 431 C 913.72 435.95 905.72 439.17 899.7 442.6 C 893.68 446.03 889.23 449.33 883 451.6 C 876.77 453.87 867.47 455.12 862.3 456.2 C 857.13 457.28 854.8 457.4 852 458.1 C 849.2 458.8 846.58 460.02 845.5 460.4" fill="none" stroke="#000" stroke-width="1.8" />
<path d="M 845.5 460.4 L 790 460.7" fill="none" stroke="#000" stroke-width="1.6" />
<path d="M 934.8 309.5 C 935.38 315.18 937.48 333.18 938.3 343.6 C 939.12 354.02 939.82 363.7 939.7 372 C 939.58 380.3 939.13 386.77 937.6 393.4 C 936.07 400.03 932.72 405.1 930.5 411.8 C 928.28 418.5 926.63 428.03 924.3 433.6 C 921.97 439.17 920.38 441.33 916.5 445.2 C 912.62 449.07 905.73 453.15 901 456.8 C 896.27 460.45 892.4 463.65 888.1 467.1 C 883.8 470.55 878.85 474.05 875.2 477.5 C 871.55 480.95 867.7 486.08 866.2 487.8" fill="none" stroke="#000" stroke-width="1.6" />
<path d="M 931 320 C 931.5 325 933.5 340.83 934 350 C 934.5 359.17 934.67 368 934 375 C 933.33 382 930.67 389.17 930 392" fill="none" stroke="#000" stroke-width="1.0" />
<path d="M 839.06 440.03 C 837.13 449.06 835.45 455.52 835.19 461.72 L 839.06 490.38 M 850.68 439.38 C 851.33 449.06 851.72 454.23 851.33 460.68 L 851.98 485.22" fill="none" stroke="#000" stroke-width="1.56" />
<path d="M 937.19 402.58 C 938.48 415.49 932.03 433.57 926.86 441.32" fill="none" stroke="#000" stroke-width="1.4300000000000002" />
<ellipse cx="837.13" cy="516.85" rx="19.37" ry="16.14" fill="none" stroke="#000" stroke-width="2.3400000000000003"/>
<ellipse cx="836.74" cy="517.75" rx="9.68" ry="8.39" fill="none" stroke="#000" stroke-width="2.08"/>
<ellipse cx="836.74" cy="514.91" rx="3.23" ry="2.84" fill="none" stroke="#000" stroke-width="2.08"/>
<path d="M 841.65 490.38 C 845.52 486.51 857.14 485.22 861.66 489.09 C 864.24 492.96 863.6 499.42 860.37 503.29 L 855.85 499.42 C 854.56 496.19 850.68 495.55 846.81 496.84 Z" fill="none" stroke="#000" stroke-width="2.08" />
<ellipse cx="855.2" cy="496.19" rx="2.84" ry="2.58" fill="none" stroke="#000" stroke-width="1.8199999999999998"/>
<path d="M 830.67 522.66 L 831.32 544.61 M 834.54 522.66 L 835.19 544.61 M 820.99 536.86 L 832.61 547.19" fill="none" stroke="#000" stroke-width="2.3400000000000003" />
<path d="M 858.43 489.09 C 864.89 498.13 867.47 509.75 866.18 529.12 L 865.53 552.36 M 867.47 489.09 C 872.63 500.71 872.63 512.33 870.05 529.12" fill="none" stroke="#000" stroke-width="2.08" />
<path d="M 859.08 529.12 L 868.76 528.08" fill="none" stroke="#000" stroke-width="2.6" />
<path d="M 859.08 532.73 L 868.76 531.7" fill="none" stroke="#000" stroke-width="2.6" />
<path d="M 859.08 536.35 L 868.76 535.31" fill="none" stroke="#000" stroke-width="2.6" />
<path d="M 859.08 539.96 L 868.76 538.93" fill="none" stroke="#000" stroke-width="2.6" />
<path d="M 859.08 543.58 L 868.76 542.54" fill="none" stroke="#000" stroke-width="2.6" />
<path d="M 859.08 547.19 L 868.76 546.16" fill="none" stroke="#000" stroke-width="2.6" />
<path d="M 859.08 550.81 L 868.76 549.77" fill="none" stroke="#000" stroke-width="2.6" />
<path d="M 842.94 534.28 L 844.23 593.67 M 846.81 534.28 L 846.81 591.09" fill="none" stroke="#000" stroke-width="1.6900000000000002" />
<path d="M 854.56 531.7 C 851.98 542.03 850.68 554.94 854.56 567.85 C 857.14 574.31 862.3 576.89 868.76 575.6" fill="none" stroke="#000" stroke-width="2.08" />
<path d="M 844.23 593.67 L 946.23 487.8 M 849.39 592.38 L 950.1 491.67" fill="none" stroke="#000" stroke-width="1.9500000000000002" />
<path d="M 941.07 478.76 C 939.77 482.63 942.36 489.09 947.52 492.96 L 957.85 490.38 L 972.05 476.18 C 973.34 472.3 972.05 468.43 969.47 465.85 L 955.27 461.98 C 950.1 461.98 944.94 467.14 941.07 472.3 Z" fill="none" stroke="#000" stroke-width="2.08" />
<ellipse cx="948.17" cy="484.57" rx="7.1" ry="5.16" fill="none" stroke="#000" stroke-width="1.9500000000000002" transform="rotate(-45 948.17 484.57)"/>
<path d="M 951.39 474.89 L 966.89 463.27" fill="none" stroke="#000" stroke-width="1.56" />
<ellipse cx="970.76" cy="463.52" rx="2.32" ry="2.32" fill="none" stroke="#000" stroke-width="1.9500000000000002"/>
<path d="M 903.62 512.33 C 906.2 507.17 919.12 507.17 922.99 513.62 L 924.28 526.53 M 904.91 513.62 L 906.2 522.66" fill="none" stroke="#000" stroke-width="2.3400000000000003" />
<ellipse cx="922.99" cy="532.99" rx="18.08" ry="25.18" fill="none" stroke="#000" stroke-width="2.3400000000000003" transform="rotate(10 922.99 532.99)"/>
<ellipse cx="926.22" cy="536.86" rx="8.39" ry="12.27" fill="none" stroke="#000" stroke-width="2.3400000000000003" transform="rotate(10 926.22 536.86)"/>
<path d="M 903.62 526.53 L 916.53 529.12 M 895.87 552.36 L 911.37 544.61" fill="none" stroke="#000" stroke-width="1.56" />
<path d="M 861.66 562.69 C 863.6 556.88 873.93 556.23 879.09 560.75 L 880.38 574.31 L 872.63 578.18 M 862.3 562.69 L 867.47 574.31" fill="none" stroke="#000" stroke-width="2.3400000000000003" />
<path d="M 931.38 430.99 C 932.03 427.76 943.65 427.76 944.94 431.63 L 945.58 467.14 C 944.94 469.72 938.48 470.37 932.03 469.72 Z" fill="none" stroke="#000" stroke-width="1.9500000000000002" />
<ellipse cx="938.48" cy="430.99" rx="5.81" ry="2.32" fill="none" stroke="#000" stroke-width="1.6900000000000002"/>
<path d="M 937.19 433.57 L 937.84 468.43" fill="none" stroke="#000" stroke-width="1.4300000000000002" />
<path d="M 902.33 455.52 C 901.04 443.9 902.33 434.86 906.2 432.28 C 909.43 430.34 912.01 433.57 910.72 438.73 C 909.43 442.61 910.08 446.48 913.31 445.19" fill="none" stroke="#000" stroke-width="2.08" />
<path d="M 906.2 456.81 L 907.5 438.73" fill="none" stroke="#000" stroke-width="1.56" />
<path d="M 900.39 471.01 L 919.12 454.23 M 900.39 498.13 L 913.95 485.22 M 908.79 458.1 L 908.79 507.17 M 915.24 458.1 L 920.41 505.87 M 932.03 469.72 L 932.03 503.29" fill="none" stroke="#000" stroke-width="1.8199999999999998" />
<path d="M 916.53 467.14 L 932.03 459.39 L 933.32 472.3 L 917.82 478.76 Z" fill="none" stroke="#000" stroke-width="1.8199999999999998" />
<path d="M 919.12 485.22 L 934.61 490.38 L 921.7 498.13" fill="none" stroke="#000" stroke-width="1.56" />
<path d="M 610 391 C 608.5 391.5 603 391.67 601 394 C 599 396.33 598.5 394.83 598 405 C 597.5 415.17 597.5 445.33 598 455 C 598.5 464.67 599.33 461.17 601 463 C 602.67 464.83 606.83 465.5 608 466" fill="none" stroke="#000" stroke-width="2.2" />
<path d="M 601 418.7 L 622 418.7 M 601 421 L 622 421 M 601 439.4 L 622 439.4 M 622 418 L 623 441" fill="none" stroke="#000" stroke-width="1.4" />
<path d="M 603 392 L 606 390 L 612 391" fill="none" stroke="#000" stroke-width="1.6" />
<path d="M 617.73 442.73 C 609.2 446.99 606.36 456.93 609.2 468.3 C 612.05 476.82 630.51 481.08 658.92 481.08" fill="none" stroke="#000" stroke-width="2.6" />
<path d="M 627.67 448.41 C 620.57 451.25 619.15 461.19 621.99 468.3 C 624.83 473.98 637.61 476.82 658.92 476.82" fill="none" stroke="#000" stroke-width="2.08" />
<path d="M 620.57 442.73 C 627.67 439.89 633.35 442.73 636.19 448.41 M 630.51 458.35 C 633.35 455.51 637.61 455.51 641.88 458.35" fill="none" stroke="#000" stroke-width="1.6900000000000002" />
<path d="M 609.2 471.14 C 616.31 476.82 630.51 483.92 641.88 491.02 L 674.55 510.91 C 683.07 515.17 694.43 518.01 717.16 515.17" fill="none" stroke="#000" stroke-width="2.3400000000000003" />
<path d="M 612.05 469.72 C 619.15 475.4 631.93 482.5 643.3 489.6 L 675.97 508.78 C 684.49 513.04 695.85 515.17 717.16 513.04" fill="none" stroke="#000" stroke-width="1.6900000000000002" />
<path d="M 629.09 488.18 C 629.09 491.02 630.51 493.15 632.64 493.15" fill="none" stroke="#000" stroke-width="1.56" />
<path d="M 646.14 502.39 L 646.85 518.01 L 675.97 533.64 L 676.68 519.43 M 646.85 518.01 L 651.82 510.91 M 656.08 509.49 L 674.55 519.43" fill="none" stroke="#000" stroke-width="1.9500000000000002" />
<ellipse cx="666.02" cy="519.43" rx="3.55" ry="4.26" fill="none" stroke="#000" stroke-width="2.6"/>
<path d="M 676.68 533.64 L 737.05 569.15 M 737.05 569.15 L 738.47 563.47 C 741.31 560.62 746.99 561.34 749.83 564.89 L 753.38 583.35 L 748.41 584.77 L 738.47 576.25" fill="none" stroke="#000" stroke-width="2.08" />
<ellipse cx="744.86" cy="573.41" rx="3.55" ry="4.26" fill="none" stroke="#000" stroke-width="3.9000000000000004"/>
<ellipse cx="707.22" cy="537.9" rx="12.07" ry="15.62" fill="none" stroke="#000" stroke-width="2.08"/>
<path d="M 697.27 522.27 L 680.23 519.43 M 698.69 553.52 L 718.58 552.1 M 720 533.64 L 737.05 543.58" fill="none" stroke="#000" stroke-width="1.6900000000000002" />
<path d="M 661.76 461.19 C 658.92 469.72 660.34 483.92 668.86 492.44 C 677.39 500.97 694.43 505.23 722.84 505.94 L 761.19 505.94" fill="none" stroke="#000" stroke-width="2.6" />
<path d="M 671.7 465.45 C 670.28 472.56 671.7 481.08 678.81 486.76 C 688.75 495.28 705.8 499.55 737.05 500.26 L 761.19 500.26" fill="none" stroke="#000" stroke-width="2.3400000000000003" />
<path d="M 761.19 503.1 L 815.03 503.1 M 761.19 510.91 L 815.03 510.91 M 761.19 503.1 L 761.19 510.91" fill="none" stroke="#000" stroke-width="2.08" />
<ellipse cx="678.81" cy="478.24" rx="6.39" ry="6.39" fill="none" stroke="#000" stroke-width="2.08"/>
<ellipse cx="737.05" cy="495.28" rx="7.1" ry="11.08" fill="none" stroke="#000" stroke-width="2.08"/>
<ellipse cx="738.47" cy="495.28" rx="4.26" ry="7.81" fill="none" stroke="#000" stroke-width="1.56"/>
<path d="M 685.91 486.76 C 694.43 493.86 708.64 495.28 722.84 492.44 M 687.33 473.98 L 702.95 479.66 L 718.58 476.82" fill="none" stroke="#000" stroke-width="1.6900000000000002" />
<path d="M 717.16 475.4 L 720 481.08 L 725.68 476.82 Z" fill="none" stroke="#000" stroke-width="3.25" />
<path d="M 694.43 462.61 L 697.27 455.51 M 717.16 469.72 C 720 466.88 724.26 466.88 727.1 469.72" fill="none" stroke="#000" stroke-width="1.6900000000000002" />
<path d="M 769.72 493.86 C 769.72 482.5 778.24 478.24 785.34 482.5 C 789.6 486.76 788.18 493.86 785.34 496.7" fill="none" stroke="#000" stroke-width="2.3400000000000003" />
<ellipse cx="778.95" cy="490.31" rx="3.55" ry="3.12" fill="none" stroke="#000" stroke-width="1.9500000000000002"/>
<path d="M 761.19 502.39 C 761.19 496.7 765.45 493.86 773.98 495.28 M 791.02 495.28 C 800.97 496.7 810.91 496.7 815.03 495.28" fill="none" stroke="#000" stroke-width="1.6900000000000002" />
<path d="M 748.41 465.45 L 751.25 527.95 M 755.51 462.61 L 758.35 499.55" fill="none" stroke="#000" stroke-width="1.6900000000000002" />
<path d="M 720 516.59 L 722.84 547.84 M 727.1 516.59 L 729.94 547.84 M 751.25 519.43 L 754.09 562.05" fill="none" stroke="#000" stroke-width="1.56" />
<path d="M 923.5 230 L 923.5 1060" fill="none" stroke="#000" stroke-width="1.3" stroke-dasharray="14 7" stroke-linecap="butt" />
<path d="M 823.5 593 L 823.5 1066" fill="none" stroke="#000" stroke-width="1.3" stroke-dasharray="14 7" stroke-linecap="butt" />
<path d="M 753 688 L 753 1100" fill="none" stroke="#000" stroke-width="1.3" stroke-dasharray="14 7" stroke-linecap="butt" />
<path d="M 701.3 786 L 701.3 1008" fill="none" stroke="#000" stroke-width="1.3" stroke-dasharray="14 7" stroke-linecap="butt" />
<path d="M 746.25 662.5 L 749.25 658.75 L 756.75 658.75 L 760 662.5 L 757.5 667.5 L 748.75 667.5 Z" fill="none" stroke="#555" stroke-width="1.1" />
<path d="M 749.25 667.5 L 749.25 686.25 C 750.75 688.25 755.75 688.25 757.25 686.25 L 757.25 667.5" fill="none" stroke="#555" stroke-width="1.1" />
<path d="M 694.5 761.25 L 697.5 757.5 L 705 757.5 L 708.25 761.25 L 705.75 766.25 L 697 766.25 Z" fill="none" stroke="#555" stroke-width="1.1" />
<path d="M 697.5 766.25 L 697.5 785 C 699 787 704 787 705.5 785 L 705.5 766.25" fill="none" stroke="#555" stroke-width="1.1" />
<path d="M 843.75 752.5 L 727.5 825 C 725 827.5 724.5 830 724.25 832.5 L 707.5 945" fill="none" stroke="#000" stroke-width="4.2" stroke-dasharray="10 4" stroke-linecap="butt" />
<path d="M 843.75 752.5 L 727.5 825 C 725 827.5 724.5 830 724.25 832.5 L 707.5 945" fill="none" stroke="#fcfefc" stroke-width="1.5" stroke-linecap="butt"/>
<path d="M 843.75 752.5 L 847.5 753.75 L 855 775 L 869.5 766.25" fill="none" stroke="#000" stroke-width="4.2" stroke-dasharray="10 4" stroke-linecap="butt" />
<path d="M 843.75 752.5 L 847.5 753.75 L 855 775 L 869.5 766.25" fill="none" stroke="#fcfefc" stroke-width="1.5" stroke-linecap="butt"/>
<path d="M 870 722.5 L 871.25 790 L 912.5 762.5 L 912.5 720" fill="none" stroke="#000" stroke-width="1.8" stroke-dasharray="10 4" stroke-linecap="butt" />
<path d="M 870 722.5 L 912.5 697.5 L 930 707.5 L 890 732.5 Z" fill="none" stroke="#000" stroke-width="1.8" stroke-dasharray="10 4" stroke-linecap="butt" />
<path d="M 872.5 725 L 872.5 788.75" fill="none" stroke="#000" stroke-width="1.8" stroke-dasharray="10 4" stroke-linecap="butt" />
<ellipse cx="889.5" cy="723" rx="3.5" ry="2.25" fill="none" stroke="#000" stroke-width="1.3"/>
<ellipse cx="917.5" cy="705.5" rx="3.5" ry="2.25" fill="none" stroke="#000" stroke-width="1.3"/>
<path d="M 912.5 720 L 950 710 L 955 702.5 L 987.25 682.5" fill="none" stroke="#000" stroke-width="4.2" stroke-dasharray="10 4" stroke-linecap="butt" />
<path d="M 912.5 720 L 950 710 L 955 702.5 L 987.25 682.5" fill="none" stroke="#fcfefc" stroke-width="1.5" stroke-linecap="butt"/>
<path d="M 848.75 652.5 L 911.25 612.5 L 987.25 659.5" fill="none" stroke="#000" stroke-width="1.8" stroke-dasharray="10 4" stroke-linecap="butt" />
<path d="M 848.75 653 L 850 656.25 L 903.75 690" fill="none" stroke="#000" stroke-width="4.2" stroke-dasharray="10 4" stroke-linecap="butt" />
<path d="M 848.75 653 L 850 656.25 L 903.75 690" fill="none" stroke="#fcfefc" stroke-width="1.5" stroke-linecap="butt"/>
<ellipse cx="863.75" cy="648.75" rx="3.75" ry="2.5" fill="none" stroke="#000" stroke-width="1.6"/>
<ellipse cx="863.75" cy="649.25" rx="1.75" ry="1" fill="#000" stroke="#000" stroke-width="1.0"/>
<ellipse cx="907.5" cy="621.25" rx="3.75" ry="2.5" fill="none" stroke="#000" stroke-width="1.6"/>
<ellipse cx="907.5" cy="621.75" rx="1.75" ry="1" fill="#000" stroke="#000" stroke-width="1.0"/>
<ellipse cx="958.75" cy="653.75" rx="3.75" ry="2.5" fill="none" stroke="#000" stroke-width="1.6"/>
<ellipse cx="958.75" cy="654.25" rx="1.75" ry="1" fill="#000" stroke="#000" stroke-width="1.0"/>
<ellipse cx="913.75" cy="682.5" rx="3.75" ry="2.5" fill="none" stroke="#000" stroke-width="1.6"/>
<ellipse cx="913.75" cy="683" rx="1.75" ry="1" fill="#000" stroke="#000" stroke-width="1.0"/>
<path d="M 734.25 928.75 L 733.75 858.75 C 737.5 855 747.5 858.75 750 867.5 L 751.25 917.5" fill="none" stroke="#000" stroke-width="4.2" stroke-dasharray="10 4" stroke-linecap="butt" />
<path d="M 734.25 928.75 L 733.75 858.75 C 737.5 855 747.5 858.75 750 867.5 L 751.25 917.5" fill="none" stroke="#fcfefc" stroke-width="1.5" stroke-linecap="butt"/>
<path d="M 843.75 842.5 L 987.25 930" fill="none" stroke="#000" stroke-width="4.2" stroke-dasharray="10 4" stroke-linecap="butt" />
<path d="M 843.75 842.5 L 987.25 930" fill="none" stroke="#fcfefc" stroke-width="1.5" stroke-linecap="butt"/>
<path d="M 845 850 L 987.25 937.5 M 843.75 842.5 L 845 870 C 847.5 872.5 850 871.25 850 868.75" fill="none" stroke="#000" stroke-width="1.8" stroke-dasharray="10 4" stroke-linecap="butt" />
<path d="M 750 915 L 832.5 867.5 C 836.25 863.75 841.25 865 842.5 870" fill="none" stroke="#000" stroke-width="1.8" stroke-dasharray="10 4" stroke-linecap="butt" />
<path d="M 607.5 1008 L 737.5 927.5" fill="none" stroke="#000" stroke-width="4.2" stroke-dasharray="10 4" stroke-linecap="butt" />
<path d="M 607.5 1008 L 737.5 927.5" fill="none" stroke="#fcfefc" stroke-width="1.5" stroke-linecap="butt"/>
<path d="M 700 972.5 C 696.25 970 698.75 965 703.75 966.25 L 735 951.25 C 740 950 741.25 955 737.5 957.5 L 705 975 Z" fill="none" stroke="#000" stroke-width="2.4" />
<ellipse cx="826.25" cy="932.5" rx="12" ry="7.5" fill="none" stroke="#000" stroke-width="1.8" stroke-dasharray="8 3" stroke-linecap="butt"/>
<path d="M 865 897.5 L 887.5 890 L 903.75 900 L 906.25 927.5 L 886.25 935 L 885 910 Z" fill="none" stroke="#000" stroke-width="1.8" stroke-dasharray="10 4" stroke-linecap="butt" />
<ellipse cx="860" cy="911.25" rx="13.75" ry="8.75" fill="none" stroke="#000" stroke-width="1.8" stroke-dasharray="10 4" stroke-linecap="butt"/>
<path d="M 881.25 902.5 L 890 897.5 M 882.5 906.25 L 891.25 901.25" fill="none" stroke="#000" stroke-width="2.5" />
<path d="M 734 828 C 731.5 827.5 730.5 831.5 733.5 832" fill="none" stroke="#000" stroke-width="1.6" />
<path d="M 764 853 C 761.5 852.5 760.5 856.5 763.5 857" fill="none" stroke="#000" stroke-width="1.6" />
<path d="M 791.5 851.75 C 789 851.25 788 855.25 791 855.75" fill="none" stroke="#000" stroke-width="1.6" />
<path d="M 764 885.5 C 761.5 885 760.5 889 763.5 889.5" fill="none" stroke="#000" stroke-width="1.6" />
<path d="M 834 773 C 831.5 772.5 830.5 776.5 833.5 777" fill="none" stroke="#000" stroke-width="1.6" />
<path d="M 869 800.5 C 866.5 800 865.5 804 868.5 804.5" fill="none" stroke="#000" stroke-width="1.6" />
<path d="M 929 735.5 C 926.5 735 925.5 739 928.5 739.5" fill="none" stroke="#000" stroke-width="1.6" />
<path d="M 807.5 820 L 805.5 833.75 M 825 810 L 822.5 825" fill="none" stroke="#000" stroke-width="3.0" />
<path d="M 947.5 787.5 L 955 782.5 L 987.25 800" fill="none" stroke="#000" stroke-width="4.2" stroke-dasharray="10 4" stroke-linecap="butt" />
<path d="M 947.5 787.5 L 955 782.5 L 987.25 800" fill="none" stroke="#fcfefc" stroke-width="1.5" stroke-linecap="butt"/>
<path d="M 932.5 832.5 L 940 827.5 L 987.25 855" fill="none" stroke="#000" stroke-width="4.2" stroke-dasharray="10 4" stroke-linecap="butt" />
<path d="M 932.5 832.5 L 940 827.5 L 987.25 855" fill="none" stroke="#fcfefc" stroke-width="1.5" stroke-linecap="butt"/>
<path d="M 947.5 787.5 L 960 797.5 L 961.25 815 L 940 827.5" fill="none" stroke="#000" stroke-width="1.8" stroke-dasharray="10 4" stroke-linecap="butt" />
<path d="M 932.5 832.5 L 943.75 840 L 987.25 867.5" fill="none" stroke="#000" stroke-width="1.8" stroke-dasharray="10 4" stroke-linecap="butt" />
<path d="M 895 868.75 L 932.5 842.5" fill="none" stroke="#000" stroke-width="1.8" stroke-dasharray="10 4" stroke-linecap="butt" />
<path d="M 987.25 682.5 L 1020 661.25 L 1025 665 L 1102.5 617 L 1105 607.5 L 1116.25 587.5 L 1138.75 572 L 1151.25 580" fill="none" stroke="#000" stroke-width="4.2" stroke-dasharray="10 4" stroke-linecap="butt" />
<path d="M 987.25 682.5 L 1020 661.25 L 1025 665 L 1102.5 617 L 1105 607.5 L 1116.25 587.5 L 1138.75 572 L 1151.25 580" fill="none" stroke="#fcfefc" stroke-width="1.5" stroke-linecap="butt"/>
<path d="M 1125 673.75 L 1080 701.25 C 1072.5 710 1068.75 722.5 1065 732.5 L 1026.25 755 C 1015 770 1005 787.5 997.5 803.75" fill="none" stroke="#000" stroke-width="1.8" stroke-dasharray="10 4" stroke-linecap="butt" />
<path d="M 1016.5 675.5 C 1014 675 1013 679 1016 679.5" fill="none" stroke="#000" stroke-width="1.6" />
<path d="M 1032.75 678 C 1030.25 677.5 1029.25 681.5 1032.25 682" fill="none" stroke="#000" stroke-width="1.6" />
<path d="M 1064 659.25 C 1061.5 658.75 1060.5 662.75 1063.5 663.25" fill="none" stroke="#000" stroke-width="1.6" />
<path d="M 1082.75 649.25 C 1080.25 648.75 1079.25 652.75 1082.25 653.25" fill="none" stroke="#000" stroke-width="1.6" />
<path d="M 1101.5 634.25 C 1099 633.75 1098 637.75 1101 638.25" fill="none" stroke="#000" stroke-width="1.6" />
<path d="M 1101.5 679.25 C 1099 678.75 1098 682.75 1101 683.25" fill="none" stroke="#000" stroke-width="1.6" />
<path d="M 1082.75 691.75 C 1080.25 691.25 1079.25 695.25 1082.25 695.75" fill="none" stroke="#000" stroke-width="1.6" />
<path d="M 1064 704.25 C 1061.5 703.75 1060.5 707.75 1063.5 708.25" fill="none" stroke="#000" stroke-width="1.6" />
<path d="M 1061.5 721.75 C 1059 721.25 1058 725.25 1061 725.75" fill="none" stroke="#000" stroke-width="1.6" />
<path d="M 1030.25 741.75 C 1027.75 741.25 1026.75 745.25 1029.75 745.75" fill="none" stroke="#000" stroke-width="1.6" />
<path d="M 990.25 761.75 C 987.75 761.25 986.75 765.25 989.75 765.75" fill="none" stroke="#000" stroke-width="1.6" />
<path d="M 929 734.25 C 926.5 733.75 925.5 737.75 928.5 738.25" fill="none" stroke="#000" stroke-width="1.6" />
<path d="M 869 800.5 C 866.5 800 865.5 804 868.5 804.5" fill="none" stroke="#000" stroke-width="1.6" />
<path d="M 1112.75 603 C 1110.25 602.5 1109.25 606.5 1112.25 607" fill="none" stroke="#000" stroke-width="1.6" />
<path d="M 1135.25 580.5 C 1132.75 580 1131.75 584 1134.75 584.5" fill="none" stroke="#000" stroke-width="1.6" />
<path d="M 1146.5 588 C 1144 587.5 1143 591.5 1146 592" fill="none" stroke="#000" stroke-width="1.6" />
<path d="M 1150.25 600.5 C 1147.75 600 1146.75 604 1149.75 604.5" fill="none" stroke="#000" stroke-width="1.6" />
<path d="M 1180.25 580.5 C 1177.75 580 1176.75 584 1179.75 584.5" fill="none" stroke="#000" stroke-width="1.6" />
<path d="M 895.25 858 C 892.75 857.5 891.75 861.5 894.75 862" fill="none" stroke="#000" stroke-width="1.6" />
<path d="M 991.5 858 C 989 857.5 988 861.5 991 862" fill="none" stroke="#000" stroke-width="1.6" />
<path d="M 1110 643 L 1130 631 L 1134 634 L 1114 646 Z" fill="none" stroke="#000" stroke-width="1.8" />
<path d="M 1110 643 L 1111 662 L 1114 664 L 1114 646" fill="none" stroke="#000" stroke-width="1.8" />
<path d="M 1132 633 L 1237 697" fill="none" stroke="#000" stroke-width="2.6" stroke-dasharray="10 4" stroke-linecap="butt" />
<path d="M 1113 646 L 1230 713" fill="none" stroke="#000" stroke-width="4.2" stroke-dasharray="10 4" stroke-linecap="butt" />
<path d="M 1113 646 L 1230 713" fill="none" stroke="#fcfefc" stroke-width="1.5" stroke-linecap="butt"/>
<path d="M 1113 664 L 1217 728" fill="none" stroke="#000" stroke-width="2.6" stroke-dasharray="10 4" stroke-linecap="butt" />
<path d="M 1145 661.25 L 1143.75 655 L 1165 625 L 1220 591.25 L 1223.75 595 L 1223.75 618.75 L 1185 662.5" fill="none" stroke="#000" stroke-width="4.2" stroke-dasharray="10 4" stroke-linecap="butt" />
<path d="M 1145 661.25 L 1143.75 655 L 1165 625 L 1220 591.25 L 1223.75 595 L 1223.75 618.75 L 1185 662.5" fill="none" stroke="#fcfefc" stroke-width="1.5" stroke-linecap="butt"/>
<ellipse cx="1186.25" cy="627.5" rx="2" ry="2.75" fill="none" stroke="#000" stroke-width="1.5"/>
<ellipse cx="1192.5" cy="642.5" rx="2" ry="2.75" fill="none" stroke="#000" stroke-width="1.5"/>
<ellipse cx="1216.25" cy="607.5" rx="2" ry="2.75" fill="none" stroke="#000" stroke-width="1.5"/>
<path d="M 947.5 790 L 961.25 781.25 L 1143.75 890" fill="none" stroke="#000" stroke-width="4.2" stroke-dasharray="10 4" stroke-linecap="butt" />
<path d="M 947.5 790 L 961.25 781.25 L 1143.75 890" fill="none" stroke="#fcfefc" stroke-width="1.5" stroke-linecap="butt"/>
<path d="M 947.5 790 L 960 802.5 L 1227.25 927.5 M 961.25 800 L 961.25 812.5" fill="none" stroke="#000" stroke-width="1.8" stroke-dasharray="10 4" stroke-linecap="butt" />
<path d="M 932.5 832.5 L 957.5 815 M 940 840 L 1152.5 930" fill="none" stroke="#000" stroke-width="4.2" stroke-dasharray="10 4" stroke-linecap="butt" />
<path d="M 932.5 832.5 L 957.5 815 M 940 840 L 1152.5 930" fill="none" stroke="#fcfefc" stroke-width="1.5" stroke-linecap="butt"/>
<path d="M 932.5 832.5 L 940 840 M 957.5 815 L 990 802.5" fill="none" stroke="#000" stroke-width="1.8" stroke-dasharray="10 4" stroke-linecap="butt" />
<path d="M 895 862.5 L 940 840" fill="none" stroke="#000" stroke-width="1.8" stroke-dasharray="10 4" stroke-linecap="butt" />
<path d="M 1141.25 897.5 L 1182.5 870 L 1202.5 880 L 1202.5 930 M 1141.25 897.5 L 1160 910 L 1161.25 930 M 1160 910 L 1202.5 880" fill="none" stroke="#000" stroke-width="1.8" stroke-dasharray="10 4" stroke-linecap="butt" />
<ellipse cx="1156.25" cy="902.5" rx="3" ry="2.25" fill="none" stroke="#000" stroke-width="1.5"/>
<ellipse cx="1183.75" cy="876.25" rx="3" ry="2.25" fill="none" stroke="#000" stroke-width="1.5"/>
<path d="M 840 842.5 L 980 930" fill="none" stroke="#000" stroke-width="4.2" stroke-dasharray="10 4" stroke-linecap="butt" />
<path d="M 840 842.5 L 980 930" fill="none" stroke="#fcfefc" stroke-width="1.5" stroke-linecap="butt"/>
<path d="M 845 852.5 L 970 930" fill="none" stroke="#000" stroke-width="4.2" stroke-dasharray="10 4" stroke-linecap="butt" />
<path d="M 845 852.5 L 970 930" fill="none" stroke="#fcfefc" stroke-width="1.5" stroke-linecap="butt"/>
<path d="M 845 842.5 C 840 855 842.5 870 850 870" fill="none" stroke="#000" stroke-width="1.6" />
<path d="M 1207.5 802.5 L 1206.25 745 L 1213.75 736.25 L 1251.25 676.25 L 1282.5 657 L 1285.5 660 L 1285.5 716.25 L 1273.75 725" fill="none" stroke="#000" stroke-width="4.2" stroke-dasharray="10 4" stroke-linecap="butt" />
<path d="M 1207.5 802.5 L 1206.25 745 L 1213.75 736.25 L 1251.25 676.25 L 1282.5 657 L 1285.5 660 L 1285.5 716.25 L 1273.75 725" fill="none" stroke="#fcfefc" stroke-width="1.5" stroke-linecap="butt"/>
<path d="M 1256.25 732.5 L 1255 775 L 1211.25 803.75" fill="none" stroke="#000" stroke-width="4.2" stroke-dasharray="10 4" stroke-linecap="butt" />
<path d="M 1256.25 732.5 L 1255 775 L 1211.25 803.75" fill="none" stroke="#fcfefc" stroke-width="1.5" stroke-linecap="butt"/>
<path d="M 1279 666.75 C 1276.5 666.25 1275.5 670.25 1278.5 670.75" fill="none" stroke="#000" stroke-width="1.8" />
<path d="M 1272.75 674.25 C 1270.25 673.75 1269.25 677.75 1272.25 678.25" fill="none" stroke="#000" stroke-width="1.8" />
<path d="M 1272.75 700.5 C 1270.25 700 1269.25 704 1272.25 704.5" fill="none" stroke="#000" stroke-width="1.8" />
<path d="M 1230.25 749.25 C 1227.75 748.75 1226.75 752.75 1229.75 753.25" fill="none" stroke="#000" stroke-width="1.8" />
<path d="M 1230.25 783 C 1227.75 782.5 1226.75 786.5 1229.75 787" fill="none" stroke="#000" stroke-width="1.8" />
<path d="M 1275 723.75 L 1385 793.75" fill="none" stroke="#000" stroke-width="4.2" stroke-dasharray="10 4" stroke-linecap="butt" />
<path d="M 1275 723.75 L 1385 793.75" fill="none" stroke="#fcfefc" stroke-width="1.5" stroke-linecap="butt"/>
<path d="M 1256.25 735 L 1377.5 810 M 1256.25 745 L 1375 815" fill="none" stroke="#000" stroke-width="1.8" stroke-dasharray="10 4" stroke-linecap="butt" />
<path d="M 1256.25 757.5 L 1367.5 822.5" fill="none" stroke="#000" stroke-width="4.2" stroke-dasharray="10 4" stroke-linecap="butt" />
<path d="M 1256.25 757.5 L 1367.5 822.5" fill="none" stroke="#fcfefc" stroke-width="1.5" stroke-linecap="butt"/>
<path d="M 1377.5 800 L 1397.5 785 C 1401.25 782.5 1403.75 780 1406.25 776.25 M 1377.5 800 L 1378.75 812.5 L 1400 800 L 1401.25 792.5" fill="none" stroke="#000" stroke-width="1.6" />
<path d="M 1160 630 L 1172.5 617.5 L 1222.5 590 L 1223.75 613.75 L 1185 662.5" fill="none" stroke="#000" stroke-width="4.2" stroke-dasharray="10 4" stroke-linecap="butt" />
<path d="M 1160 630 L 1172.5 617.5 L 1222.5 590 L 1223.75 613.75 L 1185 662.5" fill="none" stroke="#fcfefc" stroke-width="1.5" stroke-linecap="butt"/>
<ellipse cx="1185" cy="627.5" rx="2" ry="3" fill="none" stroke="#000" stroke-width="1.5"/>
<ellipse cx="1192.5" cy="642.5" rx="2" ry="3" fill="none" stroke="#000" stroke-width="1.5"/>
<ellipse cx="1217" cy="607" rx="2" ry="3" fill="none" stroke="#000" stroke-width="1.5"/>
<path d="M 1160 957.5 L 1322.5 852.5 L 1400 810" fill="none" stroke="#000" stroke-width="4.2" stroke-dasharray="10 4" stroke-linecap="butt" />
<path d="M 1160 957.5 L 1322.5 852.5 L 1400 810" fill="none" stroke="#fcfefc" stroke-width="1.5" stroke-linecap="butt"/>
<path d="M 1160 950 L 1255 892.5" fill="none" stroke="#000" stroke-width="4.2" stroke-dasharray="10 4" stroke-linecap="butt" />
<path d="M 1160 950 L 1255 892.5" fill="none" stroke="#fcfefc" stroke-width="1.5" stroke-linecap="butt"/>
<path d="M 1332.5 877.5 L 1400 837.5 M 1335 885 L 1402.5 850 M 1360 895 L 1397.5 877.5" fill="none" stroke="#000" stroke-width="2.2" stroke-dasharray="10 4" stroke-linecap="butt" />
<path d="M 1255 892.5 L 1317.5 851.25 L 1322.5 855 L 1322.5 875 L 1260 912.5 L 1255 910 Z" fill="none" stroke="#000" stroke-width="1.8" stroke-dasharray="10 4" stroke-linecap="butt" />
<ellipse cx="1266.25" cy="895" rx="2.5" ry="3.25" fill="none" stroke="#000" stroke-width="1.6"/>
<ellipse cx="1288.75" cy="881.25" rx="2.5" ry="3.25" fill="none" stroke="#000" stroke-width="1.6"/>
<ellipse cx="1310" cy="866.25" rx="2.5" ry="3.25" fill="none" stroke="#000" stroke-width="1.6"/>
<path d="M 1322.5 875 L 1427.5 941.25 L 1426.25 946.25 L 1367.5 985 L 1352.5 982.5 L 1262.5 925" fill="none" stroke="#000" stroke-width="4.2" stroke-dasharray="10 4" stroke-linecap="butt" />
<path d="M 1322.5 875 L 1427.5 941.25 L 1426.25 946.25 L 1367.5 985 L 1352.5 982.5 L 1262.5 925" fill="none" stroke="#fcfefc" stroke-width="1.5" stroke-linecap="butt"/>
<ellipse cx="1361.25" cy="910" rx="4" ry="2.75" fill="none" stroke="#000" stroke-width="1.6"/>
<ellipse cx="1316.25" cy="938.75" rx="4" ry="2.75" fill="none" stroke="#000" stroke-width="1.6"/>
<ellipse cx="1412.5" cy="943.75" rx="4" ry="2.75" fill="none" stroke="#000" stroke-width="1.6"/>
<ellipse cx="1367.5" cy="972.5" rx="4" ry="2.75" fill="none" stroke="#000" stroke-width="1.6"/>
<path d="M 1245 910 L 1246.25 1010" fill="none" stroke="#000" stroke-width="4.2" stroke-dasharray="10 4" stroke-linecap="butt" />
<path d="M 1245 910 L 1246.25 1010" fill="none" stroke="#fcfefc" stroke-width="1.5" stroke-linecap="butt"/>
<path d="M 1261.25 920 L 1262.5 1010" fill="none" stroke="#000" stroke-width="4.2" stroke-dasharray="10 4" stroke-linecap="butt" />
<path d="M 1261.25 920 L 1262.5 1010" fill="none" stroke="#fcfefc" stroke-width="1.5" stroke-linecap="butt"/>
<path d="M 1245 910 L 1261.25 920" fill="none" stroke="#000" stroke-width="1.6" />
<path d="M 1160 882.5 L 1182.5 867.5 L 1202.5 880 L 1203.75 930 M 1160 892.5 L 1202.5 882.5" fill="none" stroke="#000" stroke-width="1.8" stroke-dasharray="10 4" stroke-linecap="butt" />
<ellipse cx="1183.75" cy="875" rx="2.5" ry="2" fill="none" stroke="#000" stroke-width="1.5"/>
<path d="M 1232.5 870 L 1235 910 M 1236.25 870 L 1238.75 907.5" fill="none" stroke="#000" stroke-width="1.6" />
<path d="M 1160 1005 L 1212.5 972.5 L 1220 976.25 L 1227.5 962.5 L 1242.5 955" fill="none" stroke="#000" stroke-width="4.2" stroke-dasharray="10 4" stroke-linecap="butt" />
<path d="M 1160 1005 L 1212.5 972.5 L 1220 976.25 L 1227.5 962.5 L 1242.5 955" fill="none" stroke="#fcfefc" stroke-width="1.5" stroke-linecap="butt"/>
<path d="M 1160 992.5 L 1242.5 950" fill="none" stroke="#000" stroke-width="4.2" stroke-dasharray="10 4" stroke-linecap="butt" />
<path d="M 1160 992.5 L 1242.5 950" fill="none" stroke="#fcfefc" stroke-width="1.5" stroke-linecap="butt"/>
<path d="M 1265 960 L 1290 945 L 1310 960 L 1295 990 L 1265 1007.5" fill="none" stroke="#000" stroke-width="1.8" stroke-dasharray="10 4" stroke-linecap="butt" />
<path d="M 1242.5 575 L 1256.25 570 M 1235 585 L 1255 600 M 1240 580 L 1255 585 M 1242.5 590 L 1253.75 595" fill="none" stroke="#000" stroke-width="1.3" />
<path d="M 608.25 1008.5 L 895 1187.5" fill="none" stroke="#000" stroke-width="2.2" stroke-dasharray="10 4" stroke-linecap="butt" />
<path d="M 607.5 1015.5 L 895 1194.5" fill="none" stroke="#000" stroke-width="2.0" stroke-dasharray="10 4" stroke-linecap="butt" />
<path d="M 610 1042 L 893.75 1222" fill="none" stroke="#000" stroke-width="2.0" stroke-dasharray="10 4" stroke-linecap="butt" />
<path d="M 607 1010 L 607 1067.5" fill="none" stroke="#000" stroke-width="4.2" stroke-dasharray="10 4" stroke-linecap="butt" />
<path d="M 607 1010 L 607 1067.5" fill="none" stroke="#fcfefc" stroke-width="1.5" stroke-linecap="butt"/>
<path d="M 607 1042 L 637.5 1065" fill="none" stroke="#000" stroke-width="1.4" />
<path d="M 895 1188 L 987.25 1130" fill="none" stroke="#000" stroke-width="2.0" stroke-dasharray="10 4" stroke-linecap="butt" />
<path d="M 898.75 1197.5 L 987.25 1141.25" fill="none" stroke="#000" stroke-width="2.0" stroke-dasharray="10 4" stroke-linecap="butt" />
<path d="M 895.5 1190 L 896.25 1224.5" fill="none" stroke="#000" stroke-width="4.2" stroke-dasharray="10 4" stroke-linecap="butt" />
<path d="M 895.5 1190 L 896.25 1224.5" fill="none" stroke="#fcfefc" stroke-width="1.5" stroke-linecap="butt"/>
<path d="M 898.75 1192.5 L 900 1252.5" fill="none" stroke="#000" stroke-width="4.2" stroke-dasharray="10 4" stroke-linecap="butt" />
<path d="M 898.75 1192.5 L 900 1252.5" fill="none" stroke="#fcfefc" stroke-width="1.5" stroke-linecap="butt"/>
<path d="M 900 1252.5 L 987.25 1195.5" fill="none" stroke="#000" stroke-width="2.0" stroke-dasharray="10 4" stroke-linecap="butt" />
<ellipse cx="826.25" cy="1052.5" rx="48.75" ry="29.5" fill="none" stroke="#000" stroke-width="1.8" stroke-dasharray="10 4" stroke-linecap="butt"/>
<path d="M 778 1042.5 C 785 1030 805 1023 826.25 1023 C 845 1023 865 1030 872.5 1042.5" fill="none" stroke="#000" stroke-width="3.2" />
<path d="M 820 1027.5 L 872.5 1056.25" fill="none" stroke="#000" stroke-width="1.6" />
<path d="M 738.75 920 L 860 950 L 960 1012 L 987.25 1030" fill="none" stroke="#000" stroke-width="4.2" stroke-dasharray="10 4" stroke-linecap="butt" />
<path d="M 738.75 920 L 860 950 L 960 1012 L 987.25 1030" fill="none" stroke="#fcfefc" stroke-width="1.5" stroke-linecap="butt"/>
<path d="M 738.75 920 L 740 933.75 L 860 963.75 L 960 1027.5 M 860 950 L 860 965 M 960 1012 L 961.25 1030" fill="none" stroke="#000" stroke-width="1.8" stroke-dasharray="10 4" stroke-linecap="butt" />
<path d="M 865 950 L 942.5 923.75 L 987.25 900 M 885 957.5 L 987.25 912.5" fill="none" stroke="#000" stroke-width="1.8" stroke-dasharray="10 4" stroke-linecap="butt" />
<path d="M 935 990 L 987.25 962.5 M 932.5 995 L 987.25 967.5" fill="none" stroke="#000" stroke-width="1.8" stroke-dasharray="10 4" stroke-linecap="butt" />
<path d="M 675 1045 L 675 1030 L 682.5 1020 L 735 987.5 L 825 937.5 M 675 1045 L 702.5 1032.5 L 702.5 1047.5 L 720 1040 L 720 1030 M 735 987.5 L 736.25 1030 L 825 972.5 M 707.5 1055 L 815 997.5" fill="none" stroke="#888" stroke-width="1.0" stroke-dasharray="10 5" stroke-linecap="butt" />
<path d="M 660.75 996.15 C 654.9 994.2 652.3 1001.35 659.45 1002" fill="none" stroke="#000" stroke-width="1.8" />
<path d="M 912 1156.15 C 906.15 1154.2 903.55 1161.35 910.7 1162" fill="none" stroke="#000" stroke-width="1.8" />
<path d="M 865.75 1194.9 C 859.9 1192.95 857.3 1200.1 864.45 1200.75" fill="none" stroke="#000" stroke-width="1.8" />
<path d="M 919.5 1189.9 C 913.65 1187.95 911.05 1195.1 918.2 1195.75" fill="none" stroke="#000" stroke-width="1.8" />
<path d="M 950.75 1212.4 C 944.9 1210.45 942.3 1217.6 949.45 1218.25" fill="none" stroke="#000" stroke-width="1.8" />
<ellipse cx="807.5" cy="979.5" rx="2.75" ry="1.75" fill="none" stroke="#000" stroke-width="1.5"/>
<ellipse cx="807.5" cy="980" rx="1.5" ry="0.75" fill="#000" stroke="#000" stroke-width="1.0"/>
<ellipse cx="825" cy="990" rx="2.75" ry="1.75" fill="none" stroke="#000" stroke-width="1.5"/>
<ellipse cx="825" cy="990.5" rx="1.5" ry="0.75" fill="#000" stroke="#000" stroke-width="1.0"/>
<ellipse cx="727.5" cy="1052.5" rx="2.75" ry="1.75" fill="none" stroke="#000" stroke-width="1.5"/>
<ellipse cx="727.5" cy="1053" rx="1.5" ry="0.75" fill="#000" stroke="#000" stroke-width="1.0"/>
<ellipse cx="728.75" cy="1063.75" rx="2.75" ry="1.75" fill="none" stroke="#000" stroke-width="1.5"/>
<ellipse cx="728.75" cy="1064.25" rx="1.5" ry="0.75" fill="#000" stroke="#000" stroke-width="1.0"/>
<ellipse cx="921.25" cy="1052.5" rx="2.75" ry="1.75" fill="none" stroke="#000" stroke-width="1.5"/>
<ellipse cx="921.25" cy="1053" rx="1.5" ry="0.75" fill="#000" stroke="#000" stroke-width="1.0"/>
<ellipse cx="921.25" cy="1063.75" rx="2.75" ry="1.75" fill="none" stroke="#000" stroke-width="1.5"/>
<ellipse cx="921.25" cy="1064.25" rx="1.5" ry="0.75" fill="#000" stroke="#000" stroke-width="1.0"/>
<ellipse cx="808.75" cy="1113.75" rx="2.75" ry="1.75" fill="none" stroke="#000" stroke-width="1.5"/>
<ellipse cx="808.75" cy="1114.25" rx="1.5" ry="0.75" fill="#000" stroke="#000" stroke-width="1.0"/>
<ellipse cx="841.25" cy="1113.75" rx="2.75" ry="1.75" fill="none" stroke="#000" stroke-width="1.5"/>
<ellipse cx="841.25" cy="1114.25" rx="1.5" ry="0.75" fill="#000" stroke="#000" stroke-width="1.0"/>
<ellipse cx="788.75" cy="988" rx="3.5" ry="2.5" fill="none" stroke="#666" stroke-width="1.1"/>
<ellipse cx="737" cy="1021.25" rx="3.5" ry="2.5" fill="none" stroke="#666" stroke-width="1.1"/>
<ellipse cx="963.75" cy="1162.5" rx="2.5" ry="3.5" fill="none" stroke="#000" stroke-width="1.6" transform="rotate(30 963.75 1162.5)"/>
<path d="M 945 1130 C 942.5 1127.5 945 1123.75 948.75 1123.75 L 980 1108 C 985 1106.25 986.25 1111.25 982.5 1113.75 L 950 1132.5 C 947.5 1133.75 945.5 1132 945 1130 Z" fill="none" stroke="#000" stroke-width="2.2" />
<path d="M 948.75 1126.25 L 957.5 1130" fill="none" stroke="#000" stroke-width="2.0" />
<path d="M 701.3 1122 L 701.3 1430" fill="none" stroke="#000" stroke-width="1.3" stroke-dasharray="14 7" stroke-linecap="butt" />
<path d="M 753 1100 L 753 1423 L 793 1447 L 793 1483" fill="none" stroke="#000" stroke-width="1.3" stroke-dasharray="14 7" stroke-linecap="butt" />
<path d="M 824.5 1080 L 824.5 1670" fill="none" stroke="#000" stroke-width="1.3" stroke-dasharray="14 7" stroke-linecap="butt" />
<path d="M 923.5 1250 L 923.5 1383" fill="none" stroke="#000" stroke-width="1.3" stroke-dasharray="14 7" stroke-linecap="butt" />
<path d="M 637.5 1066 L 637.5 1090" fill="none" stroke="#000" stroke-width="1.3" stroke-dasharray="10 5" stroke-linecap="butt" />
<path d="M 736.5 1020 L 736.5 1145" fill="none" stroke="#777" stroke-width="1.0" stroke-dasharray="2 2" stroke-linecap="butt" />
<path d="M 826 1080 L 826 1190" fill="none" stroke="#777" stroke-width="1.0" stroke-dasharray="2 2" stroke-linecap="butt" />
<path d="M 636 1060 L 346.7 1235" fill="none" stroke="#000" stroke-width="1.3" stroke-dasharray="12 7" stroke-linecap="butt" />
<path d="M 306.7 1265 L 260 1293.3" fill="none" stroke="#000" stroke-width="1.3" stroke-dasharray="12 7" stroke-linecap="butt" />
<path d="M 251.7 1298.3 L 210 1321.7" fill="none" stroke="#000" stroke-width="1.3" stroke-dasharray="12 7" stroke-linecap="butt" />
<path d="M 631.25 1095 L 632.5 1105 L 640 1108.75 L 646.25 1106.25 L 645 1097.5 L 637.5 1093.75 Z" fill="#222" stroke="#000" stroke-width="1.6" />
<path d="M 635 1098.75 L 636.25 1106.25 M 640 1097.5 L 641.25 1107.5" fill="none" stroke="#fff" stroke-width="1.2" />
<ellipse cx="825.69" cy="1401.67" rx="36.81" ry="22.92" fill="none" stroke="#000" stroke-width="2.2" stroke-dasharray="10 4" stroke-linecap="butt"/>
<path d="M 789.17 1403.06 C 788.89 1410 791.67 1416.94 797.22 1421.11 M 862.22 1403.06 C 862.5 1410 860.42 1416.94 855.56 1421.11" fill="none" stroke="#000" stroke-width="2.0" />
<path d="M 791.67 1418.33 C 798.61 1429.44 812.5 1435.69 825.69 1436.11 C 840.28 1436.11 852.78 1429.44 859.72 1419.72" fill="none" stroke="#000" stroke-width="2.2" stroke-dasharray="10 4" stroke-linecap="butt" />
<path d="M 790.28 1412.78 C 797.22 1425.28 812.5 1431.53 825.69 1431.94 C 840.28 1431.94 852.78 1425.28 861.11 1412.78" fill="none" stroke="#000" stroke-width="1.8" stroke-dasharray="10 4" stroke-linecap="butt" />
<ellipse cx="825.69" cy="1405.83" rx="23.61" ry="13.89" fill="none" stroke="#000" stroke-width="2.0" stroke-dasharray="12 5" stroke-linecap="butt"/>
<ellipse cx="825.69" cy="1393.33" rx="12.78" ry="7.78" fill="none" stroke="#000" stroke-width="1.8"/>
<ellipse cx="825.69" cy="1393.33" rx="10" ry="6.11" fill="none" stroke="#000" stroke-width="1.4"/>
<path d="M 811.11 1394.72 L 811.11 1408.61 C 815.28 1414.17 836.11 1414.17 840.28 1408.61 L 840.28 1394.72" fill="none" stroke="#000" stroke-width="1.6" />
<path d="M 772.92 1544.72 L 772.92 1579.44 C 772.92 1594.72 797.22 1605.14 825.69 1605.14 C 854.17 1605.14 877.5 1594.72 877.5 1579.44 L 877.5 1544.72 Z" fill="#fcfefc" stroke="#000" stroke-width="3.2" />
<path d="M 773.89 1576.67 C 777.78 1590.56 800 1600 825.69 1600 C 851.39 1600 872.92 1590.56 876.39 1576.67" fill="none" stroke="#000" stroke-width="1.8" />
<path d="M 774.72 1568.33 C 781.94 1583.61 802.78 1592.22 825.69 1592.22 C 848.61 1592.22 869.44 1583.61 876.67 1568.33" fill="none" stroke="#000" stroke-width="2.4" />
<path d="M 776.39 1561.39 C 786.11 1574.58 805.56 1582.22 825.69 1582.22 C 847.22 1582.22 866.67 1574.58 875.69 1561.39" fill="none" stroke="#000" stroke-width="1.6" />
<path d="M 767.36 1526.67 C 763.89 1540.56 767.36 1554.44 777.78 1564.17" fill="none" stroke="#000" stroke-width="3.4" />
<path d="M 775 1519.72 L 775 1490.56 C 775.69 1486.39 779.17 1483.61 783.33 1482.92 L 795.83 1482.22 L 833.33 1494.72 L 861.11 1504.44 L 888.89 1519.72 C 894.44 1523.89 896.94 1528.06 896.11 1535 L 880.56 1543.33 L 812.5 1565.56 L 797.22 1563.47 C 784.72 1554.44 776.39 1544.72 773.61 1540.56 L 774.31 1521.11 Z" fill="#fcfefc" stroke="#000" stroke-width="2.0" />
<path d="M 812.5 1565.56 L 813.89 1572.5 L 881.94 1550.28 L 880.56 1543.33" fill="#fcfefc" stroke="#000" stroke-width="2.0" />
<path d="M 815.28 1575.97 C 833.33 1571.81 861.11 1562.78 875.69 1555.83 M 833.33 1560 C 847.22 1557.22 861.11 1553.06 872.22 1548.89" fill="none" stroke="#000" stroke-width="1.8" />
<ellipse cx="825.69" cy="1519.72" rx="38.19" ry="22.92" fill="#fcfefc" stroke="#000" stroke-width="2.6"/>
<ellipse cx="825.69" cy="1519.72" rx="34.03" ry="20.14" fill="none" stroke="#000" stroke-width="1.8"/>
<ellipse cx="825.69" cy="1518.33" rx="28.47" ry="16.39" fill="none" stroke="#000" stroke-width="1.8"/>
<ellipse cx="825.69" cy="1518.33" rx="22.92" ry="12.78" fill="none" stroke="#000" stroke-width="1.8"/>
<ellipse cx="825.69" cy="1519.72" rx="13.89" ry="8.33" fill="none" stroke="#000" stroke-width="3.5"/>
<ellipse cx="825.69" cy="1519.72" rx="9.72" ry="6.11" fill="#fcfefc" stroke="#000" stroke-width="1.8"/>
<path d="M 799.31 1560.69 L 799.72 1582.22 C 802.78 1585.69 809.72 1585.69 811.81 1582.22 L 811.53 1560.69" fill="#111" stroke="#000" stroke-width="2.0" />
<ellipse cx="805.28" cy="1557.92" rx="6.67" ry="4.17" fill="#fcfefc" stroke="#000" stroke-width="2.0"/>
<path d="M 881.94 1528.75 L 882.64 1550.28 C 885.42 1553.75 893.06 1553.06 895.14 1550.28 L 894.44 1528.75" fill="#111" stroke="#000" stroke-width="2.0" />
<ellipse cx="888.19" cy="1527.36" rx="7.64" ry="4.58" fill="#fcfefc" stroke="#000" stroke-width="2.0"/>
<ellipse cx="792.36" cy="1486.39" rx="7.64" ry="4.86" fill="#fcfefc" stroke="#000" stroke-width="2.0"/>
<path d="M 783.33 1493.33 C 782.64 1497.5 786.11 1501.67 791.67 1501.67 C 793.75 1500.28 793.06 1497.5 791.67 1496.81" fill="#111" stroke="#000" stroke-width="3.0" />
<path d="M 777.78 1529.44 L 791.67 1529.44 L 793.06 1537.78 L 780.56 1540.56 Z M 781.94 1530.83 L 788.89 1539.17" fill="none" stroke="#000" stroke-width="1.8" />
<path d="M 935.42 1509.31 L 938.89 1506.53 L 943.06 1507.92 L 943.06 1541.94 L 939.58 1544.72 L 935.42 1543.33 Z M 938.89 1506.53 L 939.17 1510 L 939.17 1544.72 M 935.42 1509.31 L 939.17 1510 L 943.06 1507.92" fill="none" stroke="#000" stroke-width="1.6" />
<path d="M 920.14 1385.69 C 921.53 1383.89 926.39 1383.89 927.78 1385.69 L 927.78 1417.64 M 920.14 1385.69 L 920.14 1417.64" fill="none" stroke="#000" stroke-width="1.8" />
<path d="M 918.06 1419.03 L 920.14 1416.94 L 927.78 1416.94 L 929.86 1419.03 L 929.44 1424.58 L 922.92 1425.97 L 918.33 1424.17 Z M 922.92 1419.72 L 922.92 1425.97" fill="none" stroke="#000" stroke-width="1.8" />
<ellipse cx="923.61" cy="1367.64" rx="6.25" ry="4.17" fill="none" stroke="#000" stroke-width="2.0"/>
<ellipse cx="923.61" cy="1367.64" rx="3.06" ry="1.94" fill="none" stroke="#000" stroke-width="1.8"/>
<path d="M 923.61 1372.5 L 923.61 1383.61" fill="none" stroke="#000" stroke-width="1.2" />
<path d="M 752.78 1423.19 L 791.67 1447.5" fill="none" stroke="#000" stroke-width="1.4" stroke-dasharray="14 8" stroke-linecap="butt" />
<path d="M 791.67 1455.14 L 791.67 1468.33" fill="none" stroke="#000" stroke-width="1.4" stroke-dasharray="14 8" stroke-linecap="butt" />
<path d="M 825.69 1471.11 L 933.33 1523.19" fill="none" stroke="#000" stroke-width="1.4" stroke-dasharray="14 8" stroke-linecap="butt" />
<path d="M 641 1553.33 L 716 1601.67 L 767.67 1568.33" fill="none" stroke="#000" stroke-width="1.4" stroke-dasharray="14 8" stroke-linecap="butt" />
<ellipse cx="703.33" cy="1160.67" rx="7.33" ry="4.33" fill="none" stroke="#777" stroke-width="1.2"/>
<ellipse cx="703.33" cy="1160.67" rx="3.33" ry="2" fill="none" stroke="#777" stroke-width="1.0"/>
<ellipse cx="753.33" cy="1179.33" rx="12.33" ry="8" fill="#fcfefc" stroke="#000" stroke-width="1.8"/>
<path d="M 741.33 1180.67 C 746 1187.33 761 1187.33 765.33 1180.67" fill="none" stroke="#000" stroke-width="3.0" />
<ellipse cx="752.67" cy="1178.67" rx="3" ry="2" fill="#000" stroke="#000" stroke-width="1.0"/>
<path d="M 684.33 1250 L 751 1206.67 L 786 1228.33 C 792.67 1233.33 792 1243.33 786.67 1247.33 L 746 1275 C 736 1280 722.67 1280 715.33 1275 Z" fill="none" stroke="#000" stroke-width="2.0" />
<path d="M 684.33 1255 L 715.33 1280 C 722.67 1284 736 1284 746 1279.33 L 786.67 1251.67" fill="none" stroke="#000" stroke-width="2.2" />
<ellipse cx="746" cy="1220" rx="5" ry="4" fill="none" stroke="#000" stroke-width="1.6"/>
<ellipse cx="702.67" cy="1248.33" rx="5" ry="3.67" fill="none" stroke="#000" stroke-width="1.6"/>
<ellipse cx="753.33" cy="1253.33" rx="3" ry="2.33" fill="#222" stroke="#000" stroke-width="1.6"/>
<ellipse cx="701" cy="1300.67" rx="12" ry="7.33" fill="#fcfefc" stroke="#000" stroke-width="1.8"/>
<path d="M 689 1302 C 692.67 1310 709.33 1310 713 1302" fill="none" stroke="#000" stroke-width="3.0" />
<ellipse cx="701" cy="1300.33" rx="3" ry="1.67" fill="#000" stroke="#000" stroke-width="1.0"/>
<path d="M 692.67 1364 L 697.67 1358.33 L 706 1358.33 L 711 1364 L 710.33 1370 L 702.67 1373.33 L 694.33 1370.67 Z" fill="none" stroke="#000" stroke-width="1.8" />
<ellipse cx="701.67" cy="1362.33" rx="5.33" ry="3.33" fill="#222" stroke="#000" stroke-width="2.2"/>
<ellipse cx="701.67" cy="1362.33" rx="2.33" ry="1.67" fill="#fcfefc" stroke="#000" stroke-width="1.0"/>
<ellipse cx="701.5" cy="1428.1" rx="8.2" ry="5" fill="none" stroke="#000" stroke-width="1.1"/>
<ellipse cx="701.5" cy="1427.8" rx="3.3" ry="2.4" fill="#222" stroke="#000" stroke-width="1.0"/>
<path d="M 694 1431 L 695 1434 C 697 1436.5 706 1436.5 708 1434 L 709 1431" fill="none" stroke="#000" stroke-width="1.1" />
<ellipse cx="923.33" cy="1342.67" rx="7" ry="4" fill="#111" stroke="#000" stroke-width="2.0"/>
<ellipse cx="923.33" cy="1342.33" rx="2.33" ry="1.33" fill="#fcfefc" stroke="#000" stroke-width="1.0"/>
<ellipse cx="642.67" cy="1569" rx="9" ry="5" fill="none" stroke="#666" stroke-width="1.2"/>
<ellipse cx="642.67" cy="1569" rx="4.67" ry="2.67" fill="none" stroke="#666" stroke-width="1.2"/>
<path d="M 642 1556.67 L 642 1561.67" fill="none" stroke="#666" stroke-width="1.0" />
<path d="M 638.33 1598.33 C 639.33 1595 646 1595 647 1598.33 L 647 1615 M 638.33 1598.33 L 638.33 1615" fill="none" stroke="#000" stroke-width="1.8" />
<path d="M 634.33 1618.33 L 638.67 1614 L 646.67 1614 L 651 1618.33 L 650 1623.33 L 642 1626 L 635 1623.33 Z" fill="#333" stroke="#000" stroke-width="2.2" />
<path d="M 642.67 1588.33 L 642.67 1593.33" fill="none" stroke="#000" stroke-width="1.2" />
<path d="M 820 1673.33 C 821 1670 830.33 1670 831.33 1673.33 L 831.33 1720 M 820 1673.33 L 820 1720" fill="none" stroke="#000" stroke-width="1.8" />
<path d="M 820 1676.67 L 831.33 1675.33" fill="none" stroke="#000" stroke-width="1.2" />
<path d="M 820 1680 L 831.33 1678.67" fill="none" stroke="#000" stroke-width="1.2" />
<path d="M 820 1683.33 L 831.33 1682" fill="none" stroke="#000" stroke-width="1.2" />
<path d="M 820 1686.67 L 831.33 1685.33" fill="none" stroke="#000" stroke-width="1.2" />
<path d="M 820 1690 L 831.33 1688.67" fill="none" stroke="#000" stroke-width="1.2" />
<path d="M 820 1693.33 L 831.33 1692" fill="none" stroke="#000" stroke-width="1.2" />
<path d="M 820 1696.67 L 831.33 1695.33" fill="none" stroke="#000" stroke-width="1.2" />
<path d="M 820 1700 L 831.33 1698.67" fill="none" stroke="#000" stroke-width="1.2" />
<path d="M 820 1703.33 L 831.33 1702" fill="none" stroke="#000" stroke-width="1.2" />
<path d="M 817 1722.67 L 821 1718.67 L 831 1718.67 L 834.33 1722.67 L 833.33 1730 L 825.33 1732.67 L 817.67 1730 Z M 825.33 1723.33 L 825.33 1732.67" fill="none" stroke="#000" stroke-width="1.8" />
<path d="M 330 1246 L 330 1225 L 516.33 1340" fill="none" stroke="#000" stroke-width="1.8" />
<path d="M 330 1246 L 516.33 1362.67" fill="none" stroke="#000" stroke-width="1.8" />
<path d="M 331 1251.67 L 516.33 1368.33" fill="none" stroke="#000" stroke-width="1.3" />
<path d="M 328.33 1248.33 L 276.67 1294 C 270.67 1299.33 270.67 1306.67 277.33 1310.67 L 506.67 1456.67 C 510 1459 515 1459.33 516.33 1458.33" fill="none" stroke="#000" stroke-width="2.0" />
<ellipse cx="340" cy="1241.67" rx="2.67" ry="3" fill="none" stroke="#000" stroke-width="1.6"/>
<path d="M 516 1343.33 L 576 1381.67 L 578.33 1385 L 578.33 1403.33 L 576 1405.67 L 516 1366.67" fill="none" stroke="#000" stroke-width="1.8" />
<path d="M 516 1348.33 L 574.67 1386" fill="none" stroke="#000" stroke-width="1.2" />
<path d="M 577 1405 L 522.67 1451.67 C 520 1454.33 517.67 1456 516 1456.67" fill="none" stroke="#000" stroke-width="2.0" />
<ellipse cx="566.67" cy="1386.67" rx="2.67" ry="3" fill="none" stroke="#000" stroke-width="1.6"/>
<ellipse cx="246.67" cy="1301.67" rx="4.67" ry="6.67" fill="none" stroke="#000" stroke-width="2.2" transform="rotate(-30 246.67 1301.67)"/>
<ellipse cx="246.67" cy="1301.67" rx="2" ry="3" fill="#444" stroke="#000" stroke-width="1.6" transform="rotate(-30 246.67 1301.67)"/>
<path d="M 196.67 1328.33 L 207.33 1322.67 C 210.67 1322.67 212 1328.33 209.33 1330 L 200 1336.67" fill="none" stroke="#000" stroke-width="1.6" />
<ellipse cx="193.33" cy="1336" rx="5.67" ry="6.33" fill="none" stroke="#000" stroke-width="1.8" transform="rotate(-30 193.33 1336)"/>
<path d="M 189.33 1333.33 L 196.67 1339.33 M 191.67 1330.67 L 198 1335" fill="none" stroke="#000" stroke-width="1.2" />
<path d="M 993.75 1177.5 L 1006.25 1100 L 1013.75 1040 L 1018 1017.5 C 1019.5 1014.5 1022 1013 1025 1012.5 L 1140 941.25 L 1148 965 L 1160 957.5" fill="none" stroke="#000" stroke-width="4.2" stroke-dasharray="10 4" stroke-linecap="butt" />
<path d="M 993.75 1177.5 L 1006.25 1100 L 1013.75 1040 L 1018 1017.5 C 1019.5 1014.5 1022 1013 1025 1012.5 L 1140 941.25 L 1148 965 L 1160 957.5" fill="none" stroke="#fcfefc" stroke-width="1.5" stroke-linecap="butt"/>
<path d="M 993.75 1177.5 L 1065 1135 L 1063.75 1147.5" fill="none" stroke="#000" stroke-width="1.8" stroke-dasharray="10 4" stroke-linecap="butt" />
<path d="M 1162.5 953.75 L 1245 910" fill="none" stroke="#000" stroke-width="1.8" stroke-dasharray="10 4" stroke-linecap="butt" />
<path d="M 1067.5 1125 L 1066.25 1065 C 1067 1062 1068.75 1060.5 1071.25 1060 L 1210 972.5 L 1220 978 L 1225.5 963.75 L 1243.75 952.5" fill="none" stroke="#000" stroke-width="4.2" stroke-dasharray="10 4" stroke-linecap="butt" />
<path d="M 1067.5 1125 L 1066.25 1065 C 1067 1062 1068.75 1060.5 1071.25 1060 L 1210 972.5 L 1220 978 L 1225.5 963.75 L 1243.75 952.5" fill="none" stroke="#fcfefc" stroke-width="1.5" stroke-linecap="butt"/>
<path d="M 1067.5 1125 C 1070 1137.5 1080 1145 1090 1147.5 L 1143.75 1113.75 L 1142.5 1107 L 1128.75 1087.5 C 1132.5 1085 1135 1087.5 1136.25 1090 L 1195 1055 L 1200 1045.5 L 1245 1020" fill="none" stroke="#000" stroke-width="1.8" stroke-dasharray="10 4" stroke-linecap="butt" />
<path d="M 1075 1125 L 1132.5 1092.5" fill="none" stroke="#000" stroke-width="1.8" stroke-dasharray="10 4" stroke-linecap="butt" />
<path d="M 1095.5 1131.35 C 1090.1 1129.55 1087.7 1136.15 1094.3 1136.75" fill="none" stroke="#000" stroke-width="1.8" />
<path d="M 1130.5 1108.85 C 1125.1 1107.05 1122.7 1113.65 1129.3 1114.25" fill="none" stroke="#000" stroke-width="1.8" />
<path d="M 1245 908.75 L 1246.25 1021.25" fill="none" stroke="#000" stroke-width="4.2" stroke-dasharray="10 4" stroke-linecap="butt" />
<path d="M 1245 908.75 L 1246.25 1021.25" fill="none" stroke="#fcfefc" stroke-width="1.5" stroke-linecap="butt"/>
<path d="M 1263 920 L 1264.25 1028.75" fill="none" stroke="#000" stroke-width="4.2" stroke-dasharray="10 4" stroke-linecap="butt" />
<path d="M 1263 920 L 1264.25 1028.75" fill="none" stroke="#fcfefc" stroke-width="1.5" stroke-linecap="butt"/>
<path d="M 1243.75 908.75 L 1263 920 M 1245.75 1021.25 L 1264.25 1028.75" fill="none" stroke="#000" stroke-width="1.6" />
<path d="M 1253.75 892.5 L 1320 852.5 L 1347.25 836.25" fill="none" stroke="#000" stroke-width="4.2" stroke-dasharray="10 4" stroke-linecap="butt" />
<path d="M 1253.75 892.5 L 1320 852.5 L 1347.25 836.25" fill="none" stroke="#fcfefc" stroke-width="1.5" stroke-linecap="butt"/>
<path d="M 1255 910 L 1255 895 C 1256.25 891.25 1260 888.75 1320 852.5 L 1321.25 871.25 L 1265 910 Z" fill="none" stroke="#000" stroke-width="1.8" stroke-dasharray="10 4" stroke-linecap="butt" />
<ellipse cx="1266.25" cy="895" rx="3" ry="4" fill="none" stroke="#000" stroke-width="1.8" transform="rotate(30 1266.25 895)"/>
<ellipse cx="1288.75" cy="881.25" rx="3" ry="4" fill="none" stroke="#000" stroke-width="1.8" transform="rotate(30 1288.75 881.25)"/>
<ellipse cx="1311.25" cy="867.5" rx="3" ry="4" fill="none" stroke="#000" stroke-width="1.8" transform="rotate(30 1311.25 867.5)"/>
<path d="M 1263.75 920 L 1347.25 975" fill="none" stroke="#000" stroke-width="4.2" stroke-dasharray="10 4" stroke-linecap="butt" />
<path d="M 1263.75 920 L 1347.25 975" fill="none" stroke="#fcfefc" stroke-width="1.5" stroke-linecap="butt"/>
<path d="M 1275 925 L 1347.25 965 M 1265 950 L 1290 940 L 1347.25 905 M 1265 1007.5 L 1292.5 990 L 1310 960" fill="none" stroke="#000" stroke-width="1.8" stroke-dasharray="10 4" stroke-linecap="butt" />
<ellipse cx="1316.25" cy="938.75" rx="3.5" ry="2.5" fill="none" stroke="#000" stroke-width="1.6"/>
<path d="M 1142.5 895 L 1182.5 867.5 L 1203.75 880 L 1162.5 907.5 Z" fill="none" stroke="#000" stroke-width="1.8" stroke-dasharray="10 4" stroke-linecap="butt" />
<path d="M 1142.5 896.25 L 1160 906.25 L 1161.25 953.75" fill="none" stroke="#000" stroke-width="4.2" stroke-dasharray="10 4" stroke-linecap="butt" />
<path d="M 1142.5 896.25 L 1160 906.25 L 1161.25 953.75" fill="none" stroke="#fcfefc" stroke-width="1.5" stroke-linecap="butt"/>
<path d="M 1203.75 881.25 L 1203.75 927.5 M 1203.75 910 L 1235 892.5 L 1235 872.5" fill="none" stroke="#000" stroke-width="1.8" stroke-dasharray="10 4" stroke-linecap="butt" />
<ellipse cx="1155" cy="893.75" rx="3" ry="2.25" fill="none" stroke="#000" stroke-width="1.6"/>
<ellipse cx="1183.75" cy="875" rx="3" ry="2.25" fill="none" stroke="#000" stroke-width="1.6"/>
<ellipse cx="1155" cy="926.25" rx="2.25" ry="3" fill="none" stroke="#000" stroke-width="1.6"/>
<path d="M 992.5 990 L 993.75 1013.75 L 1026.25 992.5 L 1026.25 972.5 L 992.5 990" fill="none" stroke="#000" stroke-width="1.8" stroke-dasharray="10 4" stroke-linecap="butt" />
<path d="M 997.5 986.25 C 996.25 982.5 1000 980 1003.75 981.25 L 1020 972.5 C 1023.75 972.5 1025 976.25 1022.5 978.75 L 1005 988.75" fill="none" stroke="#000" stroke-width="2.0" />
<path d="M 1012.5 945 C 1020 940 1035 942.5 1040 955 L 1040 962.5" fill="none" stroke="#000" stroke-width="1.6" />
<path d="M 960 805 L 1160 912.5" fill="none" stroke="#000" stroke-width="4.2" stroke-dasharray="10 4" stroke-linecap="butt" />
<path d="M 960 805 L 1160 912.5" fill="none" stroke="#fcfefc" stroke-width="1.5" stroke-linecap="butt"/>
<path d="M 960 815 L 1157.5 930" fill="none" stroke="#000" stroke-width="4.2" stroke-dasharray="10 4" stroke-linecap="butt" />
<path d="M 960 815 L 1157.5 930" fill="none" stroke="#fcfefc" stroke-width="1.5" stroke-linecap="butt"/>
<path d="M 960 850 L 1120 952.5" fill="none" stroke="#000" stroke-width="4.2" stroke-dasharray="10 4" stroke-linecap="butt" />
<path d="M 960 850 L 1120 952.5" fill="none" stroke="#fcfefc" stroke-width="1.5" stroke-linecap="butt"/>
<path d="M 960 915 L 1070 982.5" fill="none" stroke="#000" stroke-width="4.2" stroke-dasharray="10 4" stroke-linecap="butt" />
<path d="M 960 915 L 1070 982.5" fill="none" stroke="#fcfefc" stroke-width="1.5" stroke-linecap="butt"/>
<path d="M 960 960 L 995 952.5 M 960 1007.5 L 1072.5 935" fill="none" stroke="#000" stroke-width="1.8" stroke-dasharray="10 4" stroke-linecap="butt" />
<path d="M 967.5 1012.5 L 1010 1077.5" fill="none" stroke="#000" stroke-width="4.2" stroke-dasharray="10 4" stroke-linecap="butt" />
<path d="M 967.5 1012.5 L 1010 1077.5" fill="none" stroke="#fcfefc" stroke-width="1.5" stroke-linecap="butt"/>
<path d="M 960 1020 L 1006.25 1092.5" fill="none" stroke="#000" stroke-width="1.8" stroke-dasharray="10 4" stroke-linecap="butt" />
<path d="M 960 1212.5 L 1063.75 1147.5 M 960 1137.5 L 1001.25 1122.5 M 960 1155 L 1000 1137.5" fill="none" stroke="#000" stroke-width="1.8" stroke-dasharray="10 4" stroke-linecap="butt" />
<path d="M 993.75 859.25 C 989.25 857.75 987.25 863.25 992.75 863.75" fill="none" stroke="#000" stroke-width="1.8" />
<path d="M 1130 963 C 1125.5 961.5 1123.5 967 1129 967.5" fill="none" stroke="#000" stroke-width="1.8" />
<path d="M 1165 988 C 1160.5 986.5 1158.5 992 1164 992.5" fill="none" stroke="#000" stroke-width="1.8" />
<path d="M 1060 1040.5 C 1055.5 1039 1053.5 1044.5 1059 1045" fill="none" stroke="#000" stroke-width="1.8" />
<path d="M 1087.5 1040.5 C 1083 1039 1081 1044.5 1086.5 1045" fill="none" stroke="#000" stroke-width="1.8" />
<path d="M 1060 1074.25 C 1055.5 1072.75 1053.5 1078.25 1059 1078.75" fill="none" stroke="#000" stroke-width="1.8" />
<path d="M 1030 1018 C 1025.5 1016.5 1023.5 1022 1029 1022.5" fill="none" stroke="#000" stroke-width="1.8" />
<path d="M 1223.75 924.25 C 1219.25 922.75 1217.25 928.25 1222.75 928.75" fill="none" stroke="#000" stroke-width="1.8" />
<path d="M 1103.75 1007.5 L 1101.25 1022.5 M 1120 997.5 L 1117.5 1012.5" fill="none" stroke="#000" stroke-width="3.5" />
<path d="M 960 1110 L 983.75 1107.5 C 985 1111.25 965 1120 960 1121.25" fill="none" stroke="#000" stroke-width="2.2" />
<path d="M 457 250 L 600.8 343.1" fill="none" stroke="#000" stroke-width="1.4" stroke-dasharray="9 7" stroke-linecap="butt" />
<path d="M 600.8 343.1 L 589.4 350.8 L 601.3 358.6" fill="none" stroke="#000" stroke-width="1.4" />
<path d="M 611.7 365.3 L 621.5 371" fill="none" stroke="#000" stroke-width="1.4" />
<path d="M 646.2 514.75 L 674.09 532.31 M 676.16 532.31 L 738.14 567.44" fill="none" stroke="#000" stroke-width="2.76" />
<path d="M 646.2 500.29 L 646.2 514.75 M 646.2 500.29 L 660.66 508.55 M 674.09 520.95 L 674.09 533.35 M 677.19 520.95 L 677.19 532.83 M 648.26 513.72 L 658.6 507.52" fill="none" stroke="#000" stroke-width="2.07" />
<ellipse cx="665.83" cy="519.92" rx="4.13" ry="4.65" fill="#222" stroke="#000" stroke-width="3.4499999999999997"/>
<path d="M 738.14 567.44 C 739.17 563.31 743.31 561.76 747.44 562.79 C 751.57 564.34 753.64 568.47 753.64 573.64 L 753.64 583.97 L 749.5 585 L 739.17 575.7" fill="none" stroke="#000" stroke-width="2.53" />
<ellipse cx="744.34" cy="574.67" rx="3.1" ry="4.13" fill="#222" stroke="#000" stroke-width="4.6"/>
<path d="M 663.76 460 C 661.18 470.33 661.69 485.83 670.99 499.26 C 679.26 506.49 696.82 510.62 712.31 510.62 L 760.87 510.62" fill="none" stroke="#000" stroke-width="3.4499999999999997" />
<path d="M 670.99 464.13 C 669.96 475.5 673.06 488.93 686.49 498.22 C 693.72 502.36 701.98 503.39 712.31 503.39 L 760.87 504.42" fill="none" stroke="#000" stroke-width="2.9899999999999998" />
<path d="M 759.83 503.39 L 800.02 503.9 M 759.83 511.14 L 800.02 511.65 M 759.83 503.39 L 760.35 511.14 M 761.9 503.39 L 762.42 511.14" fill="none" stroke="#000" stroke-width="2.53" />
<path d="M 640 487.89 C 650.33 494.09 665.83 503.39 681.32 510.62 C 691.65 514.75 707.15 515.79 722.64 513.72" fill="none" stroke="#000" stroke-width="2.9899999999999998" />
<path d="M 640 493.06 C 650.33 499.26 665.83 508.55 681.32 515.79 C 691.65 519.92 707.15 520.95 722.64 517.85" fill="none" stroke="#000" stroke-width="2.9899999999999998" />
<ellipse cx="707.15" cy="538.51" rx="11.88" ry="13.95" fill="none" stroke="#000" stroke-width="2.53" transform="rotate(-10 707.15 538.51)"/>
<path d="M 678.22 520.95 L 697.85 524.57 M 679.26 532.31 L 701.98 550.91 M 719.55 532.31 L 738.14 542.64 M 720.58 548.84 L 739.17 556.07" fill="none" stroke="#000" stroke-width="2.3" />
<ellipse cx="727.81" cy="523.02" rx="7.23" ry="6.71" fill="none" stroke="#000" stroke-width="2.53"/>
<path d="M 729.88 485.83 C 736.07 483.76 744.34 487.89 747.44 495.12 C 749.5 501.32 747.44 505.45 743.31 505.45" fill="none" stroke="#000" stroke-width="10.35" />
<path d="M 704.05 490.99 C 712.31 489.96 722.64 490.99 727.81 494.09 L 727.81 503.39 C 722.64 504.42 712.31 503.39 706.12 501.32 Z" fill="none" stroke="#000" stroke-width="2.3" />
<path d="M 706.12 493.06 L 706.12 501.32 M 712.31 490.99 L 712.31 502.87 M 718.51 490.99 L 718.51 503.39" fill="none" stroke="#000" stroke-width="1.8399999999999999" />
<path d="M 673.06 469.3 C 677.19 468.26 683.39 472.4 686.49 478.6 C 688.55 484.79 687.52 489.96 683.39 490.99" fill="none" stroke="#000" stroke-width="2.76" />
<ellipse cx="679.26" cy="481.69" rx="8.26" ry="9.3" fill="none" stroke="#000" stroke-width="2.3" transform="rotate(-30 679.26 481.69)"/>
<path d="M 689.59 460 L 697.85 481.69 M 714.38 460 L 722.64 482.73 L 732.98 460 M 722.64 482.73 L 732.98 474.46 L 763.97 464.13" fill="none" stroke="#000" stroke-width="2.76" />
<path d="M 769.13 494.09 C 768.62 485.83 773.26 479.63 778.43 479.63 C 784.63 480.14 788.76 485.83 788.76 494.09" fill="none" stroke="#000" stroke-width="2.9899999999999998" />
<ellipse cx="778.43" cy="489.96" rx="4.34" ry="3.93" fill="none" stroke="#000" stroke-width="2.76"/>
<ellipse cx="778.43" cy="489.96" rx="1.86" ry="1.65" fill="none" stroke="#000" stroke-width="2.3"/>
<path d="M 755.7 490.99 L 756.74 577.77 M 759.83 490.99 L 760.35 577.77" fill="none" stroke="#000" stroke-width="2.3" />
<path d="M 763.97 463.1 L 800.02 461.03 M 763.97 463.1 L 763.97 490.99" fill="none" stroke="#000" stroke-width="2.3" />
<path d="M 732.98 532.31 L 739.17 545.74 L 749.5 545.74 L 751.57 531.28 M 743.31 545.74 L 743.31 552.98 L 750.54 550.91" fill="none" stroke="#000" stroke-width="2.53" />
<path d="M 748.47 519.92 L 759.83 526.12 M 747.44 524.05 L 755.7 530.25" fill="none" stroke="#000" stroke-width="2.07" />
<path d="M 716.45 516.82 C 718.51 513.72 724.71 513.72 728.84 515.79" fill="none" stroke="#000" stroke-width="2.3" />
<path d="M 712.31 473.43 C 718.51 478.6 724.71 481.69 728.84 484.79 M 697.85 481.69 C 701.98 486.86 706.12 489.96 712.31 490.99" fill="none" stroke="#000" stroke-width="2.3" />
<ellipse cx="718.51" cy="483.76" rx="3.1" ry="6.2" fill="none" stroke="#000" stroke-width="2.3" transform="rotate(40 718.51 483.76)"/>
<path d="M 685.45 486.86 L 695.79 494.09 L 697.85 490.99 L 688.55 484.79 Z" fill="#222" stroke="#000" stroke-width="2.3" />
<path d="M 1131.27 575.36 L 1131.27 521.13 C 1131.27 518.81 1132.82 516.48 1137.47 514.16 L 1191.7 487.04" fill="none" stroke="#000" stroke-width="4.2" stroke-dasharray="10 4" stroke-linecap="butt" />
<path d="M 1131.27 575.36 L 1131.27 521.13 C 1131.27 518.81 1132.82 516.48 1137.47 514.16 L 1191.7 487.04" fill="none" stroke="#fcfefc" stroke-width="1.5" stroke-linecap="butt"/>
<path d="M 1191.7 486.73 C 1207.2 484.72 1222.69 490.14 1231.99 500.99 C 1239.73 510.29 1243.61 525.78 1243.61 550.57" fill="none" stroke="#000" stroke-width="2.0" stroke-dasharray="10 4" stroke-linecap="butt" />
<ellipse cx="1201.77" cy="500.21" rx="1.7" ry="3.72" fill="none" stroke="#000" stroke-width="1.8" transform="rotate(25 1201.77 500.21)"/>
<ellipse cx="1211.07" cy="504.4" rx="1.7" ry="3.72" fill="none" stroke="#000" stroke-width="1.8" transform="rotate(25 1211.07 504.4)"/>
<ellipse cx="1219.59" cy="509.05" rx="1.7" ry="3.72" fill="none" stroke="#000" stroke-width="1.8" transform="rotate(25 1219.59 509.05)"/>
<ellipse cx="1225.48" cy="515.24" rx="1.7" ry="3.72" fill="none" stroke="#000" stroke-width="1.8" transform="rotate(25 1225.48 515.24)"/>
<ellipse cx="1229.97" cy="523.46" rx="1.7" ry="3.72" fill="none" stroke="#000" stroke-width="1.8" transform="rotate(25 1229.97 523.46)"/>
<ellipse cx="1232.76" cy="531.98" rx="1.7" ry="3.72" fill="none" stroke="#000" stroke-width="1.8" transform="rotate(25 1232.76 531.98)"/>
<ellipse cx="1235.09" cy="539.41" rx="1.7" ry="3.72" fill="none" stroke="#000" stroke-width="1.8" transform="rotate(25 1235.09 539.41)"/>
<ellipse cx="1236.63" cy="546.23" rx="1.7" ry="3.72" fill="none" stroke="#000" stroke-width="1.8" transform="rotate(25 1236.63 546.23)"/>
<path d="M 1141.81 521.07 C 1138.18 519.86 1136.57 524.29 1141 524.69" fill="none" stroke="#000" stroke-width="1.8" />
<path d="M 1082.47 569.16 L 1100.29 558.32 L 1129.72 575.36 M 1082.47 569.16 L 1083.24 573.04 L 1112.68 590.08" fill="none" stroke="#000" stroke-width="2.0" />
<ellipse cx="1097.19" cy="567.92" rx="4.03" ry="2.48" fill="none" stroke="#000" stroke-width="2.2" transform="rotate(-30 1097.19 567.92)"/>
<path d="M 1060 640.44 L 1101.83 615.65 L 1104.93 604.8 C 1108.03 597.05 1112.68 589.31 1117.33 586.21 L 1139.02 571.49" fill="none" stroke="#000" stroke-width="4.2" stroke-dasharray="10 4" stroke-linecap="butt" />
<path d="M 1060 640.44 L 1101.83 615.65 L 1104.93 604.8 C 1108.03 597.05 1112.68 589.31 1117.33 586.21 L 1139.02 571.49" fill="none" stroke="#fcfefc" stroke-width="1.5" stroke-linecap="butt"/>
<path d="M 1139.02 571.49 L 1152.97 583.88 L 1154.52 603.25 C 1156.06 606.35 1162.26 607.12 1168.46 603.25 C 1170.78 598.6 1171.87 592.4 1171.56 584.66 L 1171.56 575.36 C 1168.46 567.61 1165.36 564.52 1160.71 566.06 C 1156.06 569.16 1154.52 575.36 1153.74 581.56" fill="none" stroke="#000" stroke-width="2.2" />
<path d="M 1154.52 592.4 L 1170.01 584.66 M 1155.29 593.95 L 1170.32 586.52" fill="none" stroke="#000" stroke-width="2.5" />
<path d="M 1171.56 575.36 L 1196.35 556.77 L 1230.44 555.22" fill="none" stroke="#000" stroke-width="4.2" stroke-dasharray="10 4" stroke-linecap="butt" />
<path d="M 1171.56 575.36 L 1196.35 556.77 L 1230.44 555.22" fill="none" stroke="#fcfefc" stroke-width="1.5" stroke-linecap="butt"/>
<path d="M 1230.44 555.22 L 1242.83 556.77 L 1244.38 570.71 L 1233.54 581.56 L 1224.24 590.86" fill="none" stroke="#000" stroke-width="2.0" />
<path d="M 1135.61 581.5 C 1131.99 580.29 1130.37 584.72 1134.81 585.12" fill="none" stroke="#000" stroke-width="1.8" />
<path d="M 1145.68 590.02 C 1142.06 588.81 1140.45 593.24 1144.88 593.64" fill="none" stroke="#000" stroke-width="1.8" />
<path d="M 1150.33 600.86 C 1146.71 599.66 1145.09 604.09 1149.53 604.49" fill="none" stroke="#000" stroke-width="1.8" />
<path d="M 1181.32 580.72 C 1177.69 579.51 1176.08 583.94 1180.51 584.35" fill="none" stroke="#000" stroke-width="1.8" />
<path d="M 1113.15 604.74 C 1109.52 603.53 1107.91 607.96 1112.34 608.36" fill="none" stroke="#000" stroke-width="1.8" />
<path d="M 1102.3 634.95 C 1098.67 633.74 1097.06 638.17 1101.49 638.58" fill="none" stroke="#000" stroke-width="1.8" />
<path d="M 1242.83 536.63 L 1259.88 525.78 M 1242.83 547.47 L 1249.8 542.82 M 1242.83 555.22 L 1250.27 550.57 M 1235.09 583.88 L 1255.54 569.94 M 1238.18 585.43 L 1254.45 601.7 M 1242.83 581.56 L 1253.68 592.4 M 1245.16 578.46 L 1254.45 584.66" fill="none" stroke="#000" stroke-width="1.8" />
<path d="M 1243.61 533.53 L 1250.58 529.65 L 1253.68 531.2" fill="none" stroke="#000" stroke-width="3.0" />
<path d="M 1109.58 641.99 L 1128.17 629.59 L 1151.42 643.54 M 1128.17 629.59 L 1129.72 632.69 L 1149.09 644.31" fill="none" stroke="#000" stroke-width="2.2" />
<path d="M 760.99 527.81 L 841.57 528.33 C 843.12 528.53 843.64 529.88 843.64 530.91 L 843.64 576.36 M 760.99 527.81 C 759.96 528.33 759.75 529.88 759.96 530.91 L 760.99 576.36 C 761.51 577.91 762.54 578.43 764.09 578.43 L 771.32 578.43" fill="none" stroke="#000" stroke-width="2.4" />
<path d="M 768.43 543.31 C 768.43 537.11 771.32 533.49 776.49 532.98 L 833.31 532.98 C 837.44 533.49 839.5 536.07 839.5 539.17 L 839.5 584.63 C 839.3 587.73 837.44 588.76 834.34 588.76 L 777.52 588.76 C 773.39 588.76 771.32 587.21 770.81 584.63 L 768.43 543.31 Z" fill="#fcfefc" stroke="#000" stroke-width="2.6" />
<path d="M 771.32 544.34 C 771.32 539.17 773.39 537.11 777.52 536.59 L 832.27 536.59 C 835.37 537.11 836.92 539.17 836.92 542.27" fill="none" stroke="#000" stroke-width="1.8" />
<path d="M 784.75 534.01 L 784.75 552.6 M 822.98 534.01 L 822.98 552.6 M 784.75 545.37 L 822.98 545.37 M 784.75 552.6 L 822.98 552.6" fill="none" stroke="#000" stroke-width="1.8" />
<path d="M 771.32 554.67 C 773.39 553.64 779.59 553.12 784.75 553.12 M 836.92 554.67 C 834.34 553.64 828.14 553.12 822.98 553.12" fill="none" stroke="#000" stroke-width="1.8" />
<path d="M 771.32 557.77 L 834.34 557.77 L 834.34 563.97 L 771.32 563.97 Z" fill="#111" stroke="#000" stroke-width="1.0" />
<path d="M 771.32 576.36 L 834.34 576.36 L 834.34 581.53 L 771.32 581.53 Z" fill="#111" stroke="#000" stroke-width="1.0" />
<path d="M 774.42 582.56 C 775.45 586.69 778.55 588.76 781.65 588.76 M 833.31 582.56 C 832.79 586.69 831.24 588.76 828.14 588.76" fill="none" stroke="#000" stroke-width="1.6" />
<path d="M 773.39 570.68 L 779.59 567.58 L 789.92 567.58 L 791.98 570.68 L 789.92 573.78 L 779.59 573.78 Z" fill="#111" stroke="#000" stroke-width="1.0" />
<text x="791.5" y="574.6" textLength="43" lengthAdjust="spacingAndGlyphs" style="font-family:'Liberation Sans',sans-serif;font-weight:bold;font-style:italic;font-size:11.5px" fill="#fcfefc" stroke="#000" stroke-width="1.3">OHV</text>
<ellipse cx="767.19" cy="533.49" rx="2.27" ry="2.27" fill="none" stroke="#000" stroke-width="2.0"/>
<path d="M 730 470.99 L 764.09 461.9 C 766.16 461.18 769.26 460.45 773.39 460.45 L 844.67 461.18 C 847.77 460.66 850.35 459.11 852.93 457.56 L 876.69 440" fill="none" stroke="#000" stroke-width="2.4" />
<path d="M 764.09 462.21 L 764.09 501.98 M 766.36 461.9 L 766.36 501.98 M 839.5 463.76 L 841.05 489.59 M 842.09 463.24 L 843.43 488.55 M 850.35 460.66 L 851.38 485.45" fill="none" stroke="#000" stroke-width="1.8" />
<path d="M 890.02 467.89 L 864.3 489.59" fill="none" stroke="#000" stroke-width="2.2" />
<path d="M 769.26 495.79 L 769.26 488.55 C 771.32 481.32 785.79 480.29 788.88 486.49 L 789.92 495.79" fill="none" stroke="#000" stroke-width="2.6" />
<ellipse cx="778.55" cy="489.07" rx="4.96" ry="4.34" fill="none" stroke="#000" stroke-width="2.4"/>
<ellipse cx="778.55" cy="489.79" rx="1.65" ry="1.45" fill="none" stroke="#000" stroke-width="2.0"/>
<path d="M 730 504.57 L 812.64 504.05 M 730 511.28 L 812.64 511.28 M 759.96 504.05 L 760.48 511.28 M 762.02 504.05 L 762.54 511.28" fill="none" stroke="#000" stroke-width="2.4" />
<path d="M 758.93 493.72 C 764.09 496.82 769.26 500.95 774.42 501.98 C 786.82 500.95 802.31 498.37 822.98 495.79" fill="none" stroke="#000" stroke-width="2.2" />
<path d="M 758.93 512.31 L 812.64 512.31 L 812.64 525.74 L 758.93 525.74 M 780.62 514.38 L 811.61 514.38 M 781.65 518.51 L 810.58 518.51" fill="none" stroke="#000" stroke-width="1.8" />
<ellipse cx="789.92" cy="522.64" rx="2.58" ry="1.65" fill="none" stroke="#000" stroke-width="1.8"/>
<ellipse cx="797.15" cy="522.64" rx="2.58" ry="1.65" fill="none" stroke="#000" stroke-width="1.8"/>
<ellipse cx="804.38" cy="522.64" rx="2.58" ry="1.65" fill="none" stroke="#000" stroke-width="1.8"/>
<ellipse cx="837.44" cy="516.45" rx="19.63" ry="16.53" fill="#fcfefc" stroke="#000" stroke-width="2.6"/>
<ellipse cx="837.44" cy="518.51" rx="9.81" ry="9.09" fill="none" stroke="#000" stroke-width="2.2"/>
<ellipse cx="836.92" cy="514.38" rx="4.13" ry="3.72" fill="none" stroke="#000" stroke-width="2.0"/>
<path d="M 829.69 521.61 C 829.69 519.55 834.34 519.03 834.86 521.61 L 835.37 545.37 C 834.86 547.44 830.72 547.44 830.21 545.37 Z" fill="#fcfefc" stroke="#000" stroke-width="2.2" />
<path d="M 819.88 539.17 C 818.84 537.11 821.94 535.56 825.04 537.62 L 832.27 544.34" fill="none" stroke="#000" stroke-width="2.0" />
<path d="M 841.57 491.65 C 843.64 488.55 853.97 485.45 860.17 486.49 C 864.3 488.55 863.26 494.75 862.23 501.98 L 858.1 514.38 L 853.97 508.18 L 845.7 497.85 Z" fill="none" stroke="#000" stroke-width="2.2" />
<ellipse cx="855" cy="497.02" rx="3.1" ry="2.89" fill="none" stroke="#000" stroke-width="2.0"/>
<path d="M 843.64 532.98 L 845.7 563.97 C 846.74 570.17 851.9 574.3 858.1 572.23 M 848.8 532.98 L 850.35 561.9 C 851.38 567.07 853.97 569.13 858.1 568.1" fill="none" stroke="#000" stroke-width="2.2" />
<path d="M 858.1 530.91 C 862.23 528.84 868.43 529.88 869.46 535.04 L 870.5 549.5 C 869.46 553.64 862.23 554.67 859.13 551.57 Z" fill="none" stroke="#000" stroke-width="2.2" />
<path d="M 859.13 536.07 L 869.98 535.56" fill="none" stroke="#000" stroke-width="2.4" />
<path d="M 859.13 540.21 L 869.98 539.69" fill="none" stroke="#000" stroke-width="2.4" />
<path d="M 859.13 544.34 L 869.98 543.82" fill="none" stroke="#000" stroke-width="2.4" />
<path d="M 859.13 548.47 L 869.98 547.95" fill="none" stroke="#000" stroke-width="2.4" />
<path d="M 944.29 923.63 L 995.61 950.74" fill="none" stroke="#000" stroke-width="1.8" stroke-dasharray="10 4" stroke-linecap="butt" />
<path d="M 860.04 948.42 L 860.04 965.85 M 960.75 1013.3 L 960.75 1029.76" fill="none" stroke="#000" stroke-width="2.6" />
<path d="M 1013.04 941.64 C 1022.73 939.7 1038.22 946.48 1041.12 956.17 L 1040.16 963.91" fill="none" stroke="#000" stroke-width="2.2" />
</svg></body></html>
